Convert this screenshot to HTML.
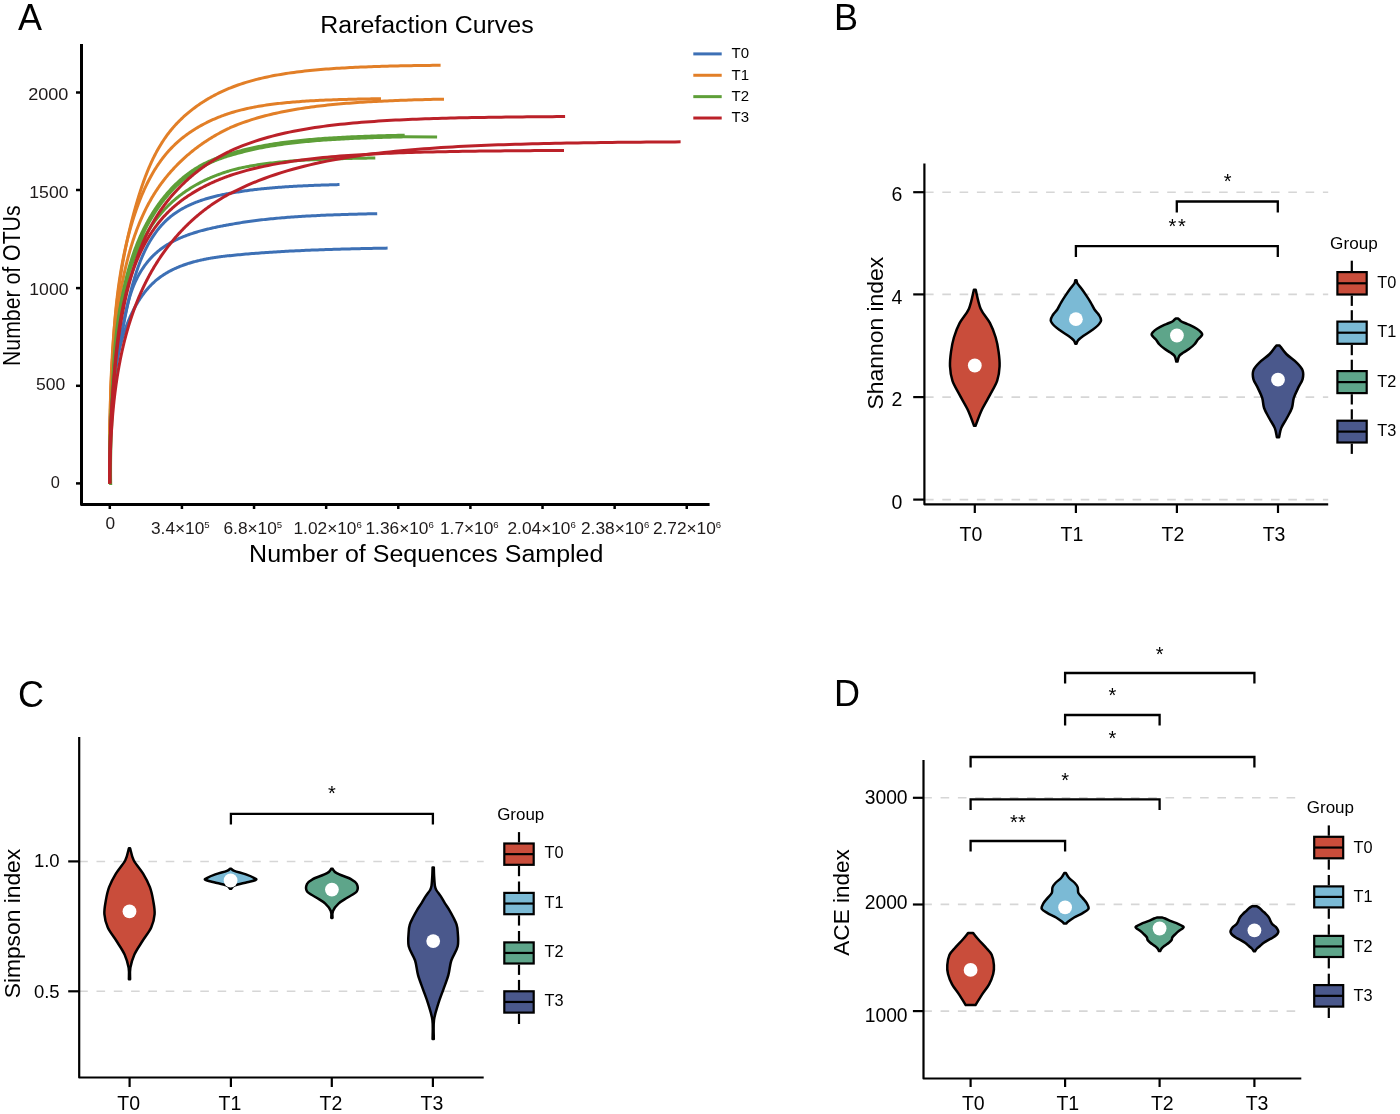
<!DOCTYPE html>
<html><head><meta charset="utf-8"><style>
html,body{margin:0;padding:0;background:#fff;}
svg{display:block;will-change:transform;}
text{font-family:"Liberation Sans",sans-serif;}
</style></head><body>
<svg width="1400" height="1114" viewBox="0 0 1400 1114">
<rect width="1400" height="1114" fill="#fff"/>
<text x="18.00" y="30.00" font-size="36" text-anchor="start" fill="#000" >A</text>
<text x="320.30" y="33.00" font-size="23.5" text-anchor="start" fill="#000" textLength="213.34" lengthAdjust="spacingAndGlyphs" >Rarefaction Curves</text>
<path d="M81.5,44 L81.5,504.5 L709.6,504.5" stroke="#000" stroke-width="3" fill="none" stroke-linejoin="round"/>
<line x1="76.00" y1="483.40" x2="81.50" y2="483.40" stroke="#000" stroke-width="2.5" />
<line x1="76.00" y1="385.80" x2="81.50" y2="385.80" stroke="#000" stroke-width="2.5" />
<line x1="76.00" y1="288.10" x2="81.50" y2="288.10" stroke="#000" stroke-width="2.5" />
<line x1="76.00" y1="190.00" x2="81.50" y2="190.00" stroke="#000" stroke-width="2.5" />
<line x1="76.00" y1="92.50" x2="81.50" y2="92.50" stroke="#000" stroke-width="2.5" />
<text x="28.20" y="100.00" font-size="17.3" text-anchor="start" fill="#1e1a1a" textLength="40.19" lengthAdjust="spacingAndGlyphs" >2000</text>
<text x="29.30" y="197.60" font-size="17.3" text-anchor="start" fill="#1e1a1a" textLength="39.19" lengthAdjust="spacingAndGlyphs" >1500</text>
<text x="29.30" y="295.00" font-size="17.3" text-anchor="start" fill="#1e1a1a" textLength="39.19" lengthAdjust="spacingAndGlyphs" >1000</text>
<text x="36.10" y="389.60" font-size="17.3" text-anchor="start" fill="#1e1a1a" textLength="29.27" lengthAdjust="spacingAndGlyphs" >500</text>
<text x="50.70" y="487.60" font-size="17.3" text-anchor="start" fill="#1e1a1a" textLength="9.12" lengthAdjust="spacingAndGlyphs" >0</text>
<line x1="109.80" y1="505.00" x2="109.80" y2="509.00" stroke="#000" stroke-width="2.5" />
<line x1="181.92" y1="505.00" x2="181.92" y2="509.00" stroke="#000" stroke-width="2.5" />
<line x1="254.04" y1="505.00" x2="254.04" y2="509.00" stroke="#000" stroke-width="2.5" />
<line x1="326.16" y1="505.00" x2="326.16" y2="509.00" stroke="#000" stroke-width="2.5" />
<line x1="398.28" y1="505.00" x2="398.28" y2="509.00" stroke="#000" stroke-width="2.5" />
<line x1="470.40" y1="505.00" x2="470.40" y2="509.00" stroke="#000" stroke-width="2.5" />
<line x1="542.52" y1="505.00" x2="542.52" y2="509.00" stroke="#000" stroke-width="2.5" />
<line x1="614.64" y1="505.00" x2="614.64" y2="509.00" stroke="#000" stroke-width="2.5" />
<line x1="686.76" y1="505.00" x2="686.76" y2="509.00" stroke="#000" stroke-width="2.5" />
<text x="110.40" y="529.30" font-size="17.3" text-anchor="middle" fill="#1e1a1a" >0</text>
<text x="151.00" y="534.00" font-size="17.3" text-anchor="start" fill="#1e1a1a" >3.4×10<tspan font-size="9.6" dy="-5.8">5</tspan></text>
<text x="223.50" y="534.00" font-size="17.3" text-anchor="start" fill="#1e1a1a" >6.8×10<tspan font-size="9.6" dy="-5.8">5</tspan></text>
<text x="293.50" y="534.00" font-size="17.3" text-anchor="start" fill="#1e1a1a" >1.02×10<tspan font-size="9.6" dy="-5.8">6</tspan></text>
<text x="365.50" y="534.00" font-size="17.3" text-anchor="start" fill="#1e1a1a" >1.36×10<tspan font-size="9.6" dy="-5.8">6</tspan></text>
<text x="440.00" y="534.00" font-size="17.3" text-anchor="start" fill="#1e1a1a" >1.7×10<tspan font-size="9.6" dy="-5.8">6</tspan></text>
<text x="507.50" y="534.00" font-size="17.3" text-anchor="start" fill="#1e1a1a" >2.04×10<tspan font-size="9.6" dy="-5.8">6</tspan></text>
<text x="581.00" y="534.00" font-size="17.3" text-anchor="start" fill="#1e1a1a" >2.38×10<tspan font-size="9.6" dy="-5.8">6</tspan></text>
<text x="652.90" y="534.00" font-size="17.3" text-anchor="start" fill="#1e1a1a" >2.72×10<tspan font-size="9.6" dy="-5.8">6</tspan></text>
<text x="249.10" y="562.10" font-size="23.5" text-anchor="start" fill="#000" textLength="354.32" lengthAdjust="spacingAndGlyphs" >Number of Sequences Sampled</text>
<text x="19.60" y="366.00" font-size="23" text-anchor="start" fill="#000" textLength="160.60" lengthAdjust="spacingAndGlyphs" transform="rotate(-90 19.60 366.00)" >Number of OTUs</text>
<polyline points="109.80,483.40 109.81,482.44 109.82,481.48 109.83,480.52 109.83,479.56 109.84,478.60 109.84,477.64 109.85,476.68 109.85,475.72 109.85,474.76 109.85,473.80 109.85,472.84 109.85,471.87 109.85,470.91 109.85,469.95 109.85,468.99 109.84,468.03 109.84,467.06 109.84,466.10 109.83,465.14 109.83,464.17 109.82,463.21 109.82,462.25 109.81,461.29 109.81,460.32 109.80,459.36 109.80,458.40 109.79,457.43 109.79,456.47 109.78,455.51 109.78,454.54 109.78,453.58 109.77,452.62 109.77,451.65 109.77,450.69 109.76,449.73 109.76,448.76 109.76,447.80 109.76,446.84 109.76,445.88 109.76,444.91 109.76,443.95 109.77,442.99 109.77,442.03 109.77,441.07 109.78,440.10 109.79,439.14 109.80,438.18 109.80,437.22 109.81,436.26 109.83,435.30 109.84,434.34 109.85,433.38 109.87,432.42 109.89,431.46 109.91,430.50 109.93,429.54 109.95,428.58 109.97,427.63 110.00,426.67 110.03,425.71 110.06,424.75 110.09,423.80 110.12,422.84 110.16,421.89 110.20,420.93 110.24,419.98 110.28,419.02 110.32,418.07 110.37,417.11 110.42,416.16 110.47,415.21 110.52,414.25 110.58,413.30 110.64,412.35 110.70,411.40 110.77,410.45 110.83,409.50 110.90,408.55 110.97,407.60 111.05,406.65 111.13,405.71 111.20,404.76 111.29,403.81 111.37,402.86 111.46,401.92 111.54,400.97 111.63,400.02 111.73,399.08 111.82,398.13 111.92,397.18 112.02,396.24 112.12,395.29 112.22,394.35 112.33,393.40 112.44,392.45 112.55,391.51 112.66,390.56 112.77,389.62 112.89,388.67 113.00,387.72 113.12,386.78 113.24,385.83 113.37,384.88 113.49,383.94 113.62,382.99 113.75,382.04 113.88,381.10 114.01,380.15 114.14,379.20 114.28,378.25 114.42,377.30 114.55,376.35 114.69,375.40 114.84,374.45 114.98,373.50 115.12,372.55 115.27,371.60 115.42,370.64 115.57,369.69 115.72,368.74 115.87,367.78 116.02,366.83 116.18,365.87 116.33,364.92 116.49,363.96 116.65,363.00 116.81,362.04 116.97,361.08 117.13,360.12 117.30,359.16 117.46,358.20 117.63,357.24 117.79,356.27 117.96,355.31 118.13,354.34 118.30,353.38 118.47,352.41 118.64,351.44 118.82,350.47 118.99,349.50 119.16,348.53 119.34,347.55 119.52,346.58 119.69,345.60 119.87,344.63 120.05,343.65 120.23,342.67 120.41,341.69 120.59,340.71 120.77,339.72 120.95,338.74 121.14,337.75 121.32,336.77 121.50,335.78 121.69,334.79 121.87,333.79 122.06,332.80 122.24,331.81 122.43,330.81 122.62,329.81 122.81,328.81 122.99,327.82 123.18,326.81 123.37,325.81 123.57,324.81 123.76,323.81 123.95,322.80 124.15,321.80 124.34,320.79 124.54,319.79 124.74,318.78 124.93,317.77 125.13,316.77 125.34,315.76 125.54,314.75 125.74,313.74 125.95,312.73 126.16,311.73 126.37,310.72 126.58,309.71 126.79,308.70 127.01,307.69 127.22,306.69 127.44,305.68 127.66,304.68 127.88,303.67 128.11,302.67 128.33,301.66 128.56,300.66 128.79,299.66 129.03,298.65 129.26,297.65 129.50,296.65 129.74,295.66 129.98,294.66 130.22,293.66 130.47,292.67 130.72,291.67 130.97,290.68 131.23,289.69 131.49,288.70 131.75,287.72 132.01,286.73 132.28,285.75 132.55,284.77 132.82,283.79 133.09,282.81 133.37,281.84 133.65,280.86 133.94,279.89 134.23,278.93 134.52,277.96 134.81,277.00 135.11,276.04 135.41,275.08 135.72,274.12 136.03,273.17 136.34,272.22 136.65,271.27 136.97,270.33 137.30,269.39 137.62,268.45 137.95,267.52 138.29,266.58 138.63,265.66 138.97,264.73 139.32,263.81 139.67,262.89 140.02,261.98 140.38,261.07 140.75,260.16 141.11,259.26 141.49,258.36 141.86,257.47 142.24,256.57 142.63,255.69 143.02,254.81 143.41,253.93 143.81,253.05 144.22,252.18 144.63,251.32 145.04,250.46 145.46,249.60 145.88,248.75 146.31,247.90 146.74,247.06 147.18,246.23 147.62,245.39 148.07,244.57 148.53,243.74 148.99,242.93 149.45,242.12 149.92,241.31 150.40,240.51 150.88,239.71 151.36,238.93 151.86,238.14 152.35,237.36 152.86,236.59 153.37,235.82 153.88,235.06 154.40,234.31 154.93,233.56 155.46,232.82 156.00,232.08 156.54,231.35 157.09,230.62 157.65,229.91 158.21,229.19 158.78,228.49 159.36,227.79 159.94,227.10 160.53,226.41 161.12,225.74 161.72,225.06 162.33,224.40 162.94,223.74 163.56,223.09 164.19,222.45 164.82,221.81 165.46,221.19 166.11,220.56 166.77,219.95 167.43,219.34 168.10,218.75 168.77,218.15 169.45,217.57 170.14,217.00 170.84,216.43 171.55,215.87 172.26,215.32 172.98,214.77 173.70,214.24 174.43,213.71 175.17,213.19 175.92,212.67 176.67,212.17 177.43,211.67 178.19,211.18 178.97,210.70 179.74,210.22 180.53,209.75 181.32,209.29 182.11,208.83 182.91,208.39 183.72,207.95 184.53,207.51 185.35,207.09 186.17,206.67 187.00,206.25 187.83,205.85 188.67,205.45 189.51,205.06 190.35,204.67 191.21,204.29 192.06,203.92 192.92,203.55 193.79,203.19 194.66,202.83 195.53,202.48 196.41,202.14 197.29,201.81 198.17,201.47 199.06,201.15 199.95,200.83 200.85,200.52 201.74,200.21 202.65,199.91 203.55,199.61 204.46,199.32 205.37,199.04 206.28,198.76 207.20,198.49 208.12,198.22 209.04,197.95 209.97,197.69 210.89,197.44 211.82,197.19 212.75,196.95 213.69,196.71 214.63,196.47 215.56,196.24 216.50,196.01 217.45,195.79 218.39,195.57 219.34,195.36 220.29,195.15 221.24,194.95 222.19,194.74 223.14,194.55 224.09,194.35 225.05,194.16 226.00,193.98 226.96,193.79 227.92,193.62 228.88,193.44 229.84,193.27 230.00,193.36 231.39,193.10 232.77,192.85 234.16,192.60 235.54,192.36 236.93,192.13 238.32,191.90 239.70,191.68 241.09,191.46 242.47,191.25 243.86,191.05 245.25,190.85 246.63,190.65 248.02,190.47 249.41,190.28 250.79,190.10 252.18,189.93 253.56,189.76 254.95,189.59 256.34,189.43 257.72,189.27 259.11,189.12 260.49,188.97 261.88,188.82 263.27,188.68 264.65,188.54 266.04,188.40 267.42,188.27 268.81,188.15 270.20,188.02 271.58,187.90 272.97,187.78 274.35,187.67 275.74,187.55 277.13,187.44 278.51,187.34 279.90,187.23 281.28,187.13 282.67,187.03 284.06,186.94 285.44,186.84 286.83,186.75 288.22,186.66 289.60,186.58 290.99,186.49 292.37,186.41 293.76,186.33 295.15,186.25 296.53,186.18 297.92,186.10 299.30,186.03 300.69,185.96 302.08,185.89 303.46,185.83 304.85,185.76 306.23,185.70 307.62,185.64 309.01,185.58 310.39,185.52 311.78,185.46 313.16,185.41 314.55,185.35 315.94,185.30 317.32,185.25 318.71,185.20 320.09,185.15 321.48,185.10 322.87,185.05 324.25,185.01 325.64,184.97 327.03,184.92 328.41,184.88 329.80,184.84 331.18,184.80 332.57,184.76 333.96,184.73 335.34,184.69 336.73,184.65 338.11,184.62 339.50,184.58" stroke="#3d70b5" stroke-width="3" fill="none" stroke-linejoin="round"/>
<polyline points="109.80,483.40 109.80,482.49 109.80,481.59 109.80,480.68 109.80,479.78 109.80,478.87 109.80,477.96 109.80,477.06 109.80,476.15 109.80,475.24 109.80,474.34 109.79,473.43 109.79,472.53 109.79,471.62 109.79,470.71 109.78,469.81 109.78,468.90 109.78,467.99 109.78,467.09 109.78,466.18 109.77,465.27 109.77,464.37 109.77,463.46 109.77,462.55 109.77,461.65 109.76,460.74 109.76,459.83 109.76,458.93 109.76,458.02 109.76,457.11 109.76,456.21 109.76,455.30 109.76,454.39 109.76,453.49 109.76,452.58 109.77,451.67 109.77,450.77 109.77,449.86 109.77,448.96 109.78,448.05 109.78,447.14 109.79,446.24 109.79,445.33 109.80,444.43 109.81,443.52 109.81,442.61 109.82,441.71 109.83,440.80 109.84,439.90 109.85,438.99 109.86,438.09 109.88,437.18 109.89,436.28 109.90,435.37 109.92,434.47 109.93,433.56 109.95,432.66 109.97,431.75 109.99,430.85 110.01,429.94 110.03,429.04 110.05,428.13 110.07,427.23 110.10,426.33 110.12,425.42 110.15,424.52 110.18,423.62 110.21,422.71 110.24,421.81 110.27,420.91 110.30,420.00 110.34,419.10 110.37,418.20 110.41,417.30 110.45,416.39 110.49,415.49 110.53,414.59 110.57,413.69 110.62,412.79 110.66,411.88 110.71,410.98 110.76,410.08 110.81,409.18 110.86,408.28 110.91,407.38 110.97,406.48 111.03,405.58 111.09,404.68 111.15,403.78 111.21,402.88 111.27,401.98 111.34,401.08 111.41,400.18 111.48,399.28 111.55,398.39 111.63,397.49 111.70,396.59 111.78,395.69 111.86,394.79 111.94,393.90 112.02,393.00 112.11,392.10 112.20,391.21 112.29,390.31 112.38,389.41 112.48,388.52 112.57,387.62 112.67,386.73 112.77,385.83 112.88,384.94 112.98,384.04 113.09,383.15 113.20,382.26 113.32,381.36 113.43,380.47 113.55,379.58 113.67,378.68 113.79,377.79 113.92,376.90 114.04,376.01 114.17,375.11 114.30,374.22 114.44,373.33 114.57,372.44 114.71,371.55 114.85,370.66 114.99,369.77 115.13,368.87 115.28,367.98 115.43,367.09 115.57,366.20 115.72,365.31 115.88,364.42 116.03,363.53 116.18,362.63 116.34,361.74 116.49,360.85 116.65,359.96 116.81,359.07 116.97,358.17 117.13,357.28 117.30,356.39 117.46,355.49 117.62,354.60 117.79,353.70 117.95,352.81 118.12,351.91 118.29,351.02 118.46,350.12 118.62,349.23 118.79,348.33 118.96,347.43 119.13,346.53 119.30,345.63 119.47,344.73 119.64,343.83 119.82,342.93 119.99,342.03 120.16,341.13 120.33,340.23 120.50,339.32 120.67,338.42 120.84,337.51 121.01,336.61 121.18,335.70 121.35,334.79 121.52,333.89 121.69,332.98 121.86,332.07 122.03,331.16 122.20,330.24 122.37,329.33 122.54,328.42 122.71,327.51 122.88,326.59 123.06,325.68 123.23,324.77 123.40,323.86 123.58,322.94 123.75,322.03 123.93,321.12 124.11,320.21 124.29,319.30 124.47,318.38 124.66,317.47 124.84,316.56 125.03,315.65 125.22,314.75 125.41,313.84 125.61,312.93 125.81,312.03 126.01,311.12 126.21,310.22 126.42,309.32 126.63,308.42 126.84,307.52 127.06,306.63 127.28,305.73 127.50,304.84 127.73,303.95 127.96,303.06 128.19,302.17 128.43,301.28 128.68,300.40 128.92,299.52 129.18,298.64 129.43,297.77 129.69,296.89 129.96,296.02 130.23,295.15 130.51,294.29 130.79,293.42 131.08,292.56 131.37,291.71 131.67,290.85 131.97,290.00 132.28,289.16 132.60,288.31 132.92,287.47 133.25,286.64 133.58,285.80 133.92,284.97 134.27,284.15 134.63,283.33 134.99,282.51 135.36,281.69 135.73,280.88 136.11,280.08 136.50,279.28 136.90,278.48 137.30,277.69 137.70,276.90 138.12,276.12 138.54,275.34 138.97,274.56 139.41,273.80 139.85,273.03 140.30,272.27 140.75,271.52 141.21,270.77 141.68,270.03 142.16,269.29 142.64,268.56 143.13,267.83 143.62,267.11 144.13,266.39 144.64,265.68 145.15,264.98 145.67,264.28 146.20,263.59 146.74,262.90 147.28,262.22 147.83,261.55 148.39,260.88 148.95,260.22 149.52,259.57 150.10,258.92 150.68,258.28 151.27,257.65 151.87,257.02 152.47,256.40 153.08,255.79 153.70,255.18 154.32,254.58 154.95,253.99 155.59,253.41 156.23,252.83 156.88,252.26 157.54,251.70 158.20,251.15 158.87,250.60 159.55,250.06 160.23,249.53 160.92,249.01 161.62,248.49 162.32,247.98 163.03,247.48 163.74,246.99 164.46,246.50 165.19,246.02 165.92,245.54 166.66,245.08 167.40,244.62 168.15,244.16 168.90,243.72 169.66,243.28 170.42,242.84 171.19,242.41 171.96,241.99 172.74,241.58 173.53,241.17 174.32,240.76 175.11,240.37 175.91,239.98 176.71,239.59 177.51,239.21 178.33,238.84 179.14,238.47 179.96,238.11 180.78,237.75 181.61,237.40 182.44,237.06 183.27,236.72 184.11,236.38 184.95,236.05 185.80,235.73 186.65,235.41 187.50,235.09 188.35,234.78 189.21,234.48 190.07,234.18 190.94,233.88 191.80,233.59 192.67,233.30 193.55,233.02 194.42,232.74 195.30,232.47 196.18,232.20 197.06,231.94 197.95,231.67 198.83,231.42 199.72,231.17 200.61,230.92 201.50,230.67 202.40,230.43 203.30,230.19 204.19,229.96 205.09,229.73 205.99,229.50 206.89,229.28 207.80,229.06 208.70,228.84 209.61,228.63 210.51,228.42 211.42,228.21 212.33,228.01 213.24,227.81 214.15,227.61 215.06,227.41 215.97,227.22 216.88,227.03 217.79,226.84 218.70,226.65 219.61,226.47 220.52,226.29 221.43,226.11 222.34,225.94 223.26,225.76 224.17,225.59 225.08,225.42 225.99,225.25 226.89,225.09 227.80,224.92 228.71,224.76 229.62,224.60 230.00,224.57 231.86,224.22 233.73,223.89 235.59,223.56 237.45,223.24 239.32,222.93 241.18,222.63 243.04,222.33 244.91,222.05 246.77,221.77 248.63,221.51 250.50,221.25 252.36,220.99 254.22,220.75 256.09,220.51 257.95,220.28 259.81,220.05 261.68,219.84 263.54,219.62 265.40,219.42 267.27,219.22 269.13,219.02 270.99,218.83 272.86,218.65 274.72,218.47 276.58,218.30 278.45,218.13 280.31,217.97 282.17,217.81 284.04,217.66 285.90,217.51 287.76,217.36 289.63,217.22 291.49,217.08 293.35,216.95 295.22,216.82 297.08,216.70 298.94,216.58 300.81,216.46 302.67,216.34 304.53,216.23 306.39,216.12 308.26,216.02 310.12,215.92 311.98,215.82 313.85,215.72 315.71,215.63 317.57,215.54 319.44,215.45 321.30,215.36 323.16,215.28 325.03,215.20 326.89,215.12 328.75,215.04 330.62,214.97 332.48,214.90 334.34,214.83 336.21,214.76 338.07,214.69 339.93,214.63 341.80,214.57 343.66,214.51 345.52,214.45 347.39,214.39 349.25,214.34 351.11,214.28 352.98,214.23 354.84,214.18 356.70,214.13 358.57,214.08 360.43,214.04 362.29,213.99 364.16,213.95 366.02,213.90 367.88,213.86 369.75,213.82 371.61,213.78 373.47,213.75 375.34,213.71 377.20,213.67" stroke="#3d70b5" stroke-width="3" fill="none" stroke-linejoin="round"/>
<polyline points="109.80,483.40 109.79,482.56 109.79,481.72 109.78,480.88 109.77,480.04 109.77,479.20 109.77,478.37 109.76,477.53 109.76,476.69 109.76,475.85 109.76,475.02 109.76,474.18 109.76,473.34 109.76,472.51 109.76,471.67 109.76,470.83 109.77,470.00 109.77,469.16 109.78,468.33 109.78,467.49 109.79,466.66 109.79,465.82 109.80,464.99 109.81,464.15 109.82,463.32 109.83,462.49 109.84,461.65 109.85,460.82 109.86,459.98 109.87,459.15 109.89,458.32 109.90,457.48 109.92,456.65 109.93,455.82 109.95,454.98 109.96,454.15 109.98,453.32 110.00,452.49 110.02,451.65 110.04,450.82 110.06,449.99 110.08,449.16 110.10,448.32 110.12,447.49 110.14,446.66 110.16,445.83 110.19,444.99 110.21,444.16 110.24,443.33 110.26,442.50 110.29,441.66 110.32,440.83 110.34,440.00 110.37,439.17 110.40,438.33 110.43,437.50 110.46,436.67 110.49,435.84 110.52,435.00 110.55,434.17 110.59,433.34 110.62,432.51 110.65,431.67 110.69,430.84 110.72,430.01 110.76,429.17 110.79,428.34 110.83,427.50 110.87,426.67 110.91,425.84 110.95,425.00 110.98,424.17 111.02,423.33 111.06,422.50 111.11,421.66 111.15,420.83 111.19,419.99 111.23,419.16 111.28,418.32 111.32,417.48 111.36,416.65 111.41,415.81 111.45,414.97 111.50,414.14 111.55,413.30 111.60,412.46 111.64,411.62 111.69,410.79 111.74,409.95 111.79,409.11 111.84,408.27 111.89,407.43 111.95,406.59 112.00,405.75 112.05,404.91 112.11,404.07 112.16,403.23 112.22,402.39 112.28,401.55 112.34,400.71 112.40,399.87 112.46,399.03 112.52,398.19 112.58,397.35 112.65,396.51 112.72,395.67 112.78,394.83 112.85,393.99 112.92,393.15 112.99,392.31 113.07,391.47 113.14,390.62 113.22,389.78 113.30,388.94 113.38,388.10 113.46,387.26 113.54,386.42 113.62,385.58 113.71,384.74 113.80,383.90 113.89,383.06 113.98,382.22 114.07,381.38 114.17,380.54 114.26,379.70 114.36,378.86 114.46,378.02 114.57,377.18 114.67,376.34 114.78,375.50 114.89,374.66 115.00,373.83 115.11,372.99 115.23,372.15 115.35,371.31 115.47,370.47 115.59,369.64 115.72,368.80 115.85,367.96 115.98,367.13 116.11,366.29 116.25,365.45 116.39,364.62 116.53,363.78 116.67,362.95 116.82,362.11 116.97,361.28 117.12,360.45 117.27,359.61 117.43,358.78 117.59,357.95 117.75,357.12 117.92,356.29 118.09,355.45 118.26,354.62 118.43,353.79 118.61,352.96 118.79,352.13 118.98,351.31 119.17,350.48 119.36,349.65 119.55,348.82 119.75,348.00 119.95,347.17 120.15,346.35 120.36,345.52 120.57,344.70 120.79,343.87 121.00,343.05 121.23,342.23 121.45,341.41 121.68,340.58 121.91,339.76 122.15,338.94 122.39,338.12 122.63,337.31 122.88,336.49 123.13,335.67 123.38,334.86 123.64,334.04 123.90,333.22 124.17,332.41 124.44,331.60 124.72,330.79 124.99,329.97 125.28,329.16 125.56,328.36 125.85,327.55 126.15,326.74 126.45,325.94 126.75,325.14 127.06,324.33 127.37,323.54 127.68,322.74 128.00,321.94 128.33,321.15 128.65,320.36 128.99,319.57 129.32,318.78 129.66,318.00 130.01,317.21 130.36,316.43 130.71,315.66 131.07,314.88 131.43,314.11 131.79,313.34 132.16,312.58 132.54,311.81 132.92,311.05 133.30,310.30 133.69,309.55 134.08,308.80 134.48,308.05 134.88,307.31 135.29,306.57 135.70,305.83 136.11,305.10 136.53,304.37 136.96,303.65 137.38,302.93 137.82,302.22 138.25,301.50 138.70,300.80 139.14,300.10 139.60,299.40 140.05,298.70 140.51,298.02 140.98,297.33 141.45,296.65 141.92,295.98 142.40,295.31 142.89,294.65 143.38,293.99 143.87,293.33 144.37,292.69 144.87,292.04 145.38,291.41 145.90,290.77 146.41,290.15 146.94,289.53 147.47,288.91 148.00,288.31 148.54,287.70 149.08,287.11 149.63,286.52 150.18,285.93 150.74,285.36 151.30,284.79 151.87,284.22 152.44,283.66 153.02,283.11 153.61,282.57 154.19,282.03 154.79,281.50 155.39,280.98 155.99,280.46 156.60,279.95 157.21,279.45 157.83,278.96 158.45,278.47 159.08,277.99 159.72,277.51 160.36,277.04 161.00,276.58 161.65,276.13 162.30,275.68 162.95,275.24 163.62,274.80 164.28,274.38 164.95,273.95 165.63,273.54 166.30,273.13 166.99,272.72 167.67,272.32 168.37,271.93 169.06,271.55 169.76,271.17 170.46,270.79 171.17,270.43 171.88,270.06 172.60,269.71 173.32,269.36 174.04,269.01 174.76,268.67 175.49,268.34 176.23,268.01 176.96,267.68 177.70,267.37 178.45,267.05 179.20,266.75 179.95,266.44 180.70,266.15 181.46,265.85 182.22,265.57 182.98,265.28 183.74,265.01 184.51,264.74 185.29,264.47 186.06,264.20 186.84,263.95 187.62,263.69 188.40,263.44 189.19,263.20 189.97,262.96 190.77,262.72 191.56,262.49 192.36,262.26 193.15,262.04 193.95,261.82 194.76,261.61 195.56,261.40 196.37,261.19 197.18,260.99 197.99,260.79 198.80,260.59 199.62,260.40 200.44,260.22 201.26,260.03 202.08,259.85 202.90,259.68 203.72,259.50 204.55,259.33 205.38,259.17 206.21,259.00 207.04,258.85 207.87,258.69 208.71,258.54 209.54,258.39 210.38,258.24 211.22,258.10 212.05,257.95 212.89,257.82 213.74,257.68 214.58,257.55 215.42,257.42 216.27,257.29 217.11,257.17 217.96,257.05 218.80,256.93 219.65,256.81 220.50,256.70 221.35,256.59 222.20,256.48 223.05,256.37 223.90,256.26 224.75,256.16 225.60,256.06 226.45,255.96 227.30,255.86 228.15,255.77 229.00,255.68 229.86,255.59 230.00,255.65 231.99,255.44 233.99,255.24 235.98,255.04 237.98,254.84 239.97,254.65 241.97,254.47 243.96,254.29 245.96,254.11 247.95,253.94 249.95,253.77 251.94,253.61 253.94,253.45 255.93,253.29 257.93,253.14 259.92,252.99 261.92,252.84 263.91,252.70 265.91,252.56 267.90,252.42 269.90,252.29 271.89,252.16 273.89,252.03 275.88,251.91 277.88,251.79 279.87,251.67 281.87,251.55 283.86,251.44 285.86,251.33 287.85,251.22 289.85,251.12 291.84,251.02 293.84,250.92 295.83,250.82 297.83,250.72 299.82,250.63 301.82,250.54 303.81,250.45 305.81,250.36 307.80,250.28 309.80,250.19 311.79,250.11 313.79,250.03 315.78,249.96 317.78,249.88 319.77,249.81 321.77,249.74 323.76,249.67 325.76,249.60 327.75,249.53 329.75,249.47 331.74,249.40 333.74,249.34 335.73,249.28 337.73,249.22 339.72,249.16 341.72,249.10 343.71,249.05 345.71,248.99 347.70,248.94 349.70,248.89 351.69,248.84 353.69,248.79 355.68,248.74 357.68,248.69 359.67,248.65 361.67,248.60 363.66,248.56 365.66,248.52 367.65,248.48 369.65,248.43 371.64,248.39 373.64,248.36 375.63,248.32 377.63,248.28 379.62,248.24 381.62,248.21 383.61,248.17 385.61,248.14 387.60,248.11" stroke="#3d70b5" stroke-width="3" fill="none" stroke-linejoin="round"/>
<polyline points="109.80,483.40 109.80,482.20 109.79,481.00 109.79,479.80 109.79,478.60 109.79,477.40 109.79,476.20 109.79,475.00 109.78,473.80 109.78,472.60 109.78,471.40 109.78,470.20 109.78,469.00 109.78,467.80 109.78,466.60 109.78,465.40 109.78,464.20 109.78,463.00 109.78,461.79 109.78,460.59 109.78,459.39 109.78,458.19 109.78,456.99 109.79,455.79 109.79,454.58 109.79,453.38 109.79,452.18 109.80,450.98 109.80,449.77 109.81,448.57 109.81,447.37 109.82,446.16 109.82,444.96 109.83,443.76 109.83,442.55 109.84,441.35 109.85,440.15 109.86,438.94 109.86,437.74 109.87,436.54 109.88,435.33 109.89,434.13 109.90,432.93 109.91,431.72 109.92,430.52 109.94,429.31 109.95,428.11 109.96,426.91 109.98,425.70 109.99,424.50 110.01,423.29 110.02,422.09 110.04,420.88 110.06,419.68 110.07,418.48 110.09,417.27 110.11,416.07 110.13,414.86 110.15,413.66 110.18,412.45 110.20,411.25 110.22,410.05 110.24,408.84 110.27,407.64 110.29,406.43 110.32,405.23 110.35,404.02 110.38,402.82 110.40,401.61 110.43,400.41 110.47,399.21 110.50,398.00 110.53,396.80 110.56,395.59 110.60,394.39 110.63,393.18 110.67,391.98 110.71,390.78 110.74,389.57 110.78,388.37 110.82,387.16 110.86,385.96 110.91,384.76 110.95,383.55 110.99,382.35 111.04,381.14 111.08,379.94 111.13,378.74 111.18,377.53 111.23,376.33 111.28,375.13 111.33,373.92 111.39,372.72 111.44,371.52 111.50,370.31 111.55,369.11 111.61,367.91 111.67,366.71 111.73,365.50 111.79,364.30 111.85,363.10 111.92,361.90 111.98,360.69 112.05,359.49 112.12,358.29 112.18,357.09 112.26,355.89 112.33,354.68 112.40,353.48 112.47,352.28 112.55,351.08 112.63,349.88 112.71,348.68 112.78,347.48 112.87,346.28 112.95,345.08 113.03,343.88 113.12,342.68 113.21,341.48 113.29,340.28 113.38,339.08 113.47,337.88 113.57,336.68 113.66,335.48 113.76,334.28 113.86,333.08 113.95,331.88 114.06,330.68 114.16,329.49 114.26,328.29 114.37,327.09 114.47,325.89 114.58,324.70 114.69,323.50 114.80,322.30 114.92,321.10 115.03,319.91 115.15,318.71 115.27,317.52 115.39,316.32 115.51,315.12 115.63,313.93 115.76,312.73 115.89,311.54 116.01,310.34 116.15,309.15 116.28,307.96 116.41,306.76 116.55,305.57 116.69,304.37 116.83,303.18 116.97,301.99 117.11,300.80 117.26,299.60 117.40,298.41 117.55,297.22 117.70,296.03 117.86,294.84 118.01,293.64 118.17,292.45 118.33,291.26 118.49,290.07 118.65,288.88 118.81,287.69 118.98,286.50 119.15,285.32 119.32,284.13 119.49,282.94 119.67,281.75 119.84,280.56 120.02,279.38 120.20,278.19 120.39,277.00 120.57,275.81 120.76,274.63 120.95,273.44 121.14,272.26 121.34,271.07 121.53,269.89 121.73,268.70 121.93,267.52 122.13,266.33 122.34,265.15 122.54,263.97 122.75,262.79 122.96,261.60 123.18,260.42 123.39,259.24 123.61,258.06 123.83,256.88 124.06,255.70 124.28,254.52 124.51,253.34 124.74,252.16 124.97,250.98 125.20,249.80 125.44,248.62 125.68,247.44 125.92,246.27 126.17,245.09 126.41,243.91 126.66,242.74 126.91,241.56 127.17,240.39 127.42,239.21 127.68,238.04 127.95,236.86 128.21,235.69 128.48,234.52 128.74,233.34 129.02,232.17 129.29,231.00 129.57,229.83 129.85,228.66 130.13,227.48 130.41,226.31 130.70,225.14 130.99,223.98 131.28,222.81 131.58,221.64 131.87,220.47 132.18,219.30 132.48,218.14 132.78,216.97 133.09,215.80 133.40,214.64 133.72,213.47 134.03,212.31 134.35,211.14 134.68,209.98 135.00,208.82 135.33,207.65 135.66,206.49 135.99,205.33 136.33,204.17 136.67,203.01 137.01,201.85 137.36,200.69 137.70,199.53 138.05,198.37 138.41,197.21 138.76,196.06 139.12,194.90 139.49,193.75 139.85,192.59 140.22,191.44 140.60,190.29 140.98,189.14 141.36,187.99 141.74,186.84 142.13,185.69 142.53,184.55 142.92,183.41 143.32,182.27 143.73,181.13 144.14,180.00 144.56,178.86 144.98,177.73 145.40,176.60 145.83,175.48 146.27,174.35 146.71,173.23 147.15,172.12 147.60,171.00 148.06,169.89 148.52,168.78 148.98,167.68 149.45,166.58 149.93,165.48 150.42,164.38 150.91,163.29 151.40,162.21 151.90,161.12 152.41,160.05 152.92,158.97 153.44,157.90 153.97,156.83 154.51,155.77 155.05,154.72 155.59,153.66 156.15,152.62 156.71,151.57 157.28,150.54 157.85,149.50 158.43,148.48 159.02,147.45 159.62,146.44 160.23,145.42 160.84,144.42 161.46,143.42 162.09,142.42 162.72,141.44 163.37,140.45 164.02,139.48 164.68,138.51 165.35,137.54 166.03,136.58 166.71,135.63 167.41,134.69 168.11,133.75 168.83,132.82 169.55,131.90 170.28,130.98 171.02,130.07 171.76,129.16 172.52,128.27 173.29,127.38 174.06,126.50 174.84,125.62 175.63,124.75 176.43,123.89 177.24,123.04 178.06,122.19 178.88,121.35 179.71,120.52 180.55,119.70 181.40,118.88 182.26,118.07 183.12,117.26 183.99,116.47 184.87,115.68 185.75,114.89 186.65,114.12 187.55,113.35 188.45,112.59 189.37,111.84 190.29,111.09 191.22,110.35 192.15,109.62 193.09,108.90 194.04,108.18 194.99,107.47 195.95,106.77 196.92,106.07 197.89,105.38 198.87,104.70 199.86,104.03 200.85,103.36 201.85,102.71 202.85,102.06 203.86,101.41 204.87,100.78 205.89,100.15 206.92,99.52 207.95,98.91 208.99,98.30 210.03,97.70 211.07,97.11 212.13,96.53 213.18,95.95 214.24,95.38 215.31,94.82 216.38,94.27 217.45,93.72 218.53,93.18 219.62,92.65 220.70,92.12 221.80,91.61 222.89,91.10 223.99,90.59 225.10,90.10 226.20,89.61 227.32,89.13 228.43,88.66 229.55,88.20 230.00,88.03 232.67,86.98 235.33,85.98 238.00,85.02 240.66,84.10 243.33,83.23 245.99,82.39 248.66,81.59 251.33,80.83 253.99,80.10 256.66,79.41 259.32,78.74 261.99,78.11 264.66,77.50 267.32,76.92 269.99,76.37 272.65,75.84 275.32,75.34 277.98,74.86 280.65,74.40 283.32,73.96 285.98,73.54 288.65,73.14 291.31,72.76 293.98,72.39 296.65,72.05 299.31,71.71 301.98,71.39 304.64,71.09 307.31,70.80 309.97,70.52 312.64,70.26 315.31,70.01 317.97,69.77 320.64,69.53 323.30,69.31 325.97,69.10 328.64,68.90 331.30,68.71 333.97,68.53 336.63,68.35 339.30,68.19 341.96,68.03 344.63,67.88 347.30,67.73 349.96,67.59 352.63,67.46 355.29,67.33 357.96,67.21 360.63,67.10 363.29,66.98 365.96,66.88 368.62,66.78 371.29,66.68 373.95,66.59 376.62,66.50 379.29,66.42 381.95,66.34 384.62,66.26 387.28,66.19 389.95,66.12 392.62,66.05 395.28,65.99 397.95,65.93 400.61,65.87 403.28,65.82 405.94,65.76 408.61,65.71 411.28,65.66 413.94,65.62 416.61,65.57 419.27,65.53 421.94,65.49 424.61,65.45 427.27,65.42 429.94,65.38 432.60,65.35 435.27,65.32 437.93,65.29 440.60,65.26" stroke="#e27f27" stroke-width="3" fill="none" stroke-linejoin="round"/>
<polyline points="109.80,483.40 109.78,482.25 109.76,481.10 109.74,479.94 109.73,478.79 109.71,477.64 109.69,476.49 109.68,475.34 109.67,474.19 109.65,473.04 109.64,471.89 109.63,470.74 109.62,469.59 109.62,468.44 109.61,467.29 109.60,466.15 109.60,465.00 109.60,463.85 109.59,462.70 109.59,461.55 109.59,460.41 109.59,459.26 109.59,458.11 109.60,456.97 109.60,455.82 109.61,454.67 109.61,453.53 109.62,452.38 109.62,451.24 109.63,450.09 109.64,448.94 109.65,447.80 109.66,446.65 109.67,445.51 109.69,444.36 109.70,443.22 109.72,442.07 109.73,440.93 109.75,439.79 109.76,438.64 109.78,437.50 109.80,436.35 109.82,435.21 109.84,434.06 109.86,432.92 109.88,431.78 109.90,430.63 109.93,429.49 109.95,428.35 109.98,427.20 110.00,426.06 110.03,424.92 110.05,423.77 110.08,422.63 110.11,421.48 110.14,420.34 110.17,419.20 110.20,418.05 110.23,416.91 110.26,415.77 110.29,414.62 110.32,413.48 110.36,412.34 110.39,411.19 110.42,410.05 110.46,408.91 110.49,407.76 110.53,406.62 110.57,405.47 110.60,404.33 110.64,403.19 110.68,402.04 110.72,400.90 110.75,399.75 110.79,398.61 110.83,397.46 110.87,396.32 110.91,395.17 110.96,394.03 111.00,392.88 111.04,391.74 111.08,390.59 111.12,389.45 111.17,388.30 111.21,387.16 111.26,386.01 111.30,384.86 111.34,383.72 111.39,382.57 111.43,381.42 111.48,380.28 111.53,379.13 111.57,377.98 111.62,376.84 111.67,375.69 111.71,374.54 111.76,373.39 111.81,372.24 111.86,371.09 111.91,369.95 111.96,368.80 112.01,367.65 112.06,366.50 112.11,365.35 112.16,364.20 112.21,363.05 112.27,361.90 112.32,360.75 112.38,359.60 112.43,358.45 112.49,357.30 112.55,356.15 112.60,355.00 112.66,353.85 112.72,352.70 112.78,351.55 112.84,350.40 112.91,349.25 112.97,348.10 113.04,346.95 113.10,345.80 113.17,344.65 113.24,343.50 113.30,342.35 113.37,341.20 113.45,340.05 113.52,338.91 113.59,337.76 113.67,336.61 113.74,335.46 113.82,334.31 113.90,333.16 113.98,332.01 114.06,330.86 114.14,329.71 114.23,328.56 114.31,327.41 114.40,326.27 114.49,325.12 114.58,323.97 114.67,322.82 114.77,321.67 114.86,320.53 114.96,319.38 115.06,318.23 115.16,317.09 115.26,315.94 115.36,314.79 115.47,313.65 115.57,312.50 115.68,311.35 115.79,310.21 115.90,309.06 116.02,307.92 116.13,306.77 116.25,305.63 116.37,304.49 116.49,303.34 116.62,302.20 116.75,301.06 116.87,299.91 117.00,298.77 117.14,297.63 117.27,296.49 117.41,295.35 117.55,294.21 117.69,293.07 117.83,291.93 117.98,290.79 118.12,289.65 118.27,288.51 118.43,287.37 118.58,286.23 118.74,285.09 118.90,283.96 119.06,282.82 119.23,281.68 119.39,280.55 119.56,279.41 119.73,278.28 119.91,277.15 120.09,276.01 120.27,274.88 120.45,273.75 120.63,272.61 120.82,271.48 121.01,270.35 121.21,269.22 121.40,268.09 121.60,266.96 121.80,265.83 122.01,264.70 122.22,263.58 122.43,262.45 122.64,261.32 122.86,260.20 123.08,259.07 123.30,257.95 123.52,256.82 123.75,255.70 123.98,254.58 124.22,253.46 124.46,252.34 124.70,251.22 124.94,250.10 125.19,248.98 125.44,247.86 125.69,246.74 125.95,245.62 126.21,244.51 126.47,243.39 126.74,242.28 127.01,241.16 127.28,240.05 127.56,238.94 127.84,237.83 128.13,236.71 128.41,235.60 128.71,234.49 129.00,233.39 129.30,232.28 129.60,231.17 129.91,230.07 130.22,228.96 130.53,227.86 130.85,226.75 131.17,225.65 131.49,224.55 131.82,223.45 132.15,222.35 132.49,221.25 132.83,220.15 133.17,219.05 133.52,217.96 133.87,216.86 134.22,215.77 134.58,214.67 134.95,213.58 135.31,212.49 135.69,211.40 136.06,210.31 136.44,209.22 136.83,208.14 137.22,207.05 137.61,205.97 138.01,204.89 138.41,203.81 138.82,202.73 139.23,201.66 139.65,200.58 140.07,199.51 140.50,198.44 140.93,197.38 141.36,196.31 141.81,195.25 142.25,194.19 142.71,193.14 143.16,192.08 143.63,191.03 144.09,189.99 144.57,188.94 145.05,187.90 145.53,186.87 146.02,185.83 146.52,184.80 147.02,183.78 147.53,182.75 148.05,181.73 148.57,180.72 149.09,179.71 149.62,178.70 150.16,177.70 150.71,176.70 151.26,175.71 151.82,174.72 152.38,173.73 152.95,172.75 153.53,171.78 154.11,170.81 154.70,169.84 155.30,168.88 155.90,167.92 156.52,166.97 157.13,166.03 157.76,165.09 158.39,164.16 159.03,163.23 159.68,162.31 160.33,161.39 160.99,160.48 161.66,159.57 162.34,158.67 163.02,157.78 163.71,156.89 164.41,156.01 165.12,155.14 165.83,154.27 166.55,153.41 167.28,152.56 168.02,151.71 168.77,150.87 169.52,150.04 170.28,149.21 171.05,148.40 171.83,147.59 172.62,146.78 173.42,145.99 174.22,145.20 175.03,144.42 175.86,143.64 176.68,142.88 177.52,142.12 178.37,141.37 179.22,140.63 180.09,139.89 180.96,139.16 181.83,138.45 182.72,137.73 183.61,137.03 184.51,136.33 185.42,135.65 186.33,134.96 187.25,134.29 188.18,133.63 189.12,132.97 190.06,132.32 191.01,131.68 191.96,131.04 192.92,130.41 193.89,129.79 194.86,129.18 195.84,128.58 196.82,127.98 197.81,127.39 198.81,126.81 199.81,126.24 200.82,125.67 201.83,125.12 202.84,124.56 203.87,124.02 204.89,123.49 205.92,122.96 206.96,122.44 208.00,121.93 209.04,121.42 210.09,120.92 211.15,120.43 212.20,119.95 213.26,119.48 214.33,119.01 215.40,118.55 216.47,118.10 217.54,117.66 218.62,117.22 219.70,116.79 220.79,116.37 221.88,115.95 222.97,115.55 224.06,115.15 225.15,114.76 226.25,114.37 227.35,114.00 228.46,113.63 229.56,113.27 230.00,113.10 231.91,112.51 233.82,111.94 235.73,111.39 237.65,110.87 239.56,110.37 241.47,109.88 243.38,109.42 245.29,108.97 247.20,108.54 249.11,108.13 251.03,107.73 252.94,107.35 254.85,106.99 256.76,106.64 258.67,106.30 260.58,105.98 262.49,105.67 264.41,105.37 266.32,105.08 268.23,104.81 270.14,104.54 272.05,104.29 273.96,104.04 275.87,103.81 277.78,103.59 279.70,103.37 281.61,103.16 283.52,102.96 285.43,102.77 287.34,102.59 289.25,102.41 291.16,102.24 293.08,102.08 294.99,101.92 296.90,101.77 298.81,101.63 300.72,101.49 302.63,101.35 304.54,101.23 306.46,101.10 308.37,100.98 310.28,100.87 312.19,100.76 314.10,100.66 316.01,100.56 317.92,100.46 319.84,100.37 321.75,100.28 323.66,100.19 325.57,100.11 327.48,100.03 329.39,99.96 331.30,99.88 333.22,99.81 335.13,99.75 337.04,99.68 338.95,99.62 340.86,99.56 342.77,99.50 344.68,99.45 346.59,99.39 348.51,99.34 350.42,99.30 352.33,99.25 354.24,99.20 356.15,99.16 358.06,99.12 359.97,99.08 361.89,99.04 363.80,99.00 365.71,98.97 367.62,98.94 369.53,98.90 371.44,98.87 373.35,98.84 375.27,98.81 377.18,98.79 379.09,98.76 381.00,98.73" stroke="#e27f27" stroke-width="3" fill="none" stroke-linejoin="round"/>
<polyline points="109.80,483.40 109.80,482.30 109.80,481.19 109.80,480.09 109.80,478.98 109.80,477.88 109.80,476.77 109.80,475.67 109.80,474.57 109.80,473.46 109.80,472.36 109.80,471.25 109.80,470.15 109.80,469.04 109.80,467.94 109.80,466.84 109.80,465.73 109.80,464.63 109.80,463.52 109.80,462.42 109.80,461.31 109.80,460.21 109.80,459.11 109.80,458.00 109.80,456.90 109.80,455.79 109.81,454.69 109.81,453.59 109.81,452.48 109.81,451.38 109.82,450.27 109.82,449.17 109.82,448.06 109.83,446.96 109.83,445.86 109.83,444.75 109.84,443.65 109.84,442.54 109.85,441.44 109.86,440.33 109.86,439.23 109.87,438.13 109.88,437.02 109.88,435.92 109.89,434.81 109.90,433.71 109.91,432.61 109.92,431.50 109.93,430.40 109.94,429.29 109.95,428.19 109.97,427.09 109.98,425.98 109.99,424.88 110.01,423.77 110.02,422.67 110.04,421.57 110.05,420.46 110.07,419.36 110.09,418.26 110.11,417.15 110.13,416.05 110.15,414.94 110.17,413.84 110.19,412.74 110.21,411.63 110.23,410.53 110.26,409.43 110.28,408.32 110.31,407.22 110.33,406.12 110.36,405.01 110.39,403.91 110.42,402.80 110.45,401.70 110.48,400.60 110.51,399.49 110.54,398.39 110.58,397.29 110.61,396.18 110.65,395.08 110.68,393.98 110.72,392.87 110.76,391.77 110.80,390.67 110.84,389.57 110.88,388.46 110.93,387.36 110.97,386.26 111.02,385.15 111.06,384.05 111.11,382.95 111.16,381.85 111.21,380.74 111.26,379.64 111.32,378.54 111.37,377.43 111.43,376.33 111.48,375.23 111.54,374.13 111.60,373.02 111.66,371.92 111.72,370.82 111.78,369.72 111.85,368.61 111.92,367.51 111.98,366.41 112.05,365.31 112.12,364.21 112.19,363.10 112.27,362.00 112.34,360.90 112.42,359.80 112.49,358.70 112.57,357.59 112.65,356.49 112.74,355.39 112.82,354.29 112.90,353.19 112.99,352.09 113.08,350.98 113.17,349.88 113.26,348.78 113.35,347.68 113.45,346.58 113.54,345.48 113.64,344.38 113.74,343.27 113.84,342.17 113.95,341.07 114.05,339.97 114.16,338.87 114.27,337.77 114.38,336.67 114.49,335.57 114.60,334.47 114.72,333.37 114.84,332.27 114.96,331.17 115.08,330.07 115.20,328.97 115.33,327.86 115.45,326.76 115.58,325.66 115.71,324.56 115.85,323.46 115.98,322.36 116.12,321.26 116.26,320.16 116.40,319.06 116.54,317.96 116.68,316.87 116.83,315.77 116.98,314.67 117.13,313.57 117.28,312.47 117.44,311.37 117.60,310.27 117.76,309.17 117.92,308.07 118.08,306.97 118.25,305.87 118.42,304.77 118.59,303.67 118.76,302.58 118.93,301.48 119.11,300.38 119.29,299.28 119.47,298.18 119.66,297.08 119.84,295.99 120.03,294.89 120.22,293.79 120.41,292.69 120.61,291.59 120.81,290.50 121.01,289.40 121.21,288.30 121.42,287.20 121.62,286.10 121.84,285.01 122.05,283.91 122.26,282.81 122.48,281.72 122.70,280.62 122.92,279.52 123.15,278.43 123.38,277.33 123.61,276.23 123.84,275.14 124.08,274.04 124.32,272.95 124.56,271.86 124.81,270.76 125.06,269.67 125.31,268.58 125.56,267.49 125.82,266.40 126.08,265.31 126.34,264.22 126.61,263.13 126.88,262.05 127.15,260.96 127.43,259.88 127.71,258.79 127.99,257.71 128.28,256.63 128.57,255.55 128.87,254.47 129.16,253.39 129.46,252.31 129.77,251.24 130.08,250.17 130.39,249.09 130.71,248.02 131.03,246.95 131.35,245.89 131.68,244.82 132.01,243.76 132.34,242.69 132.68,241.63 133.03,240.57 133.37,239.52 133.72,238.46 134.08,237.41 134.44,236.36 134.80,235.31 135.17,234.26 135.54,233.22 135.92,232.17 136.30,231.13 136.69,230.09 137.08,229.06 137.47,228.02 137.87,226.99 138.27,225.96 138.68,224.94 139.10,223.91 139.51,222.89 139.93,221.87 140.36,220.86 140.79,219.84 141.23,218.83 141.67,217.82 142.12,216.82 142.57,215.82 143.02,214.82 143.49,213.82 143.95,212.83 144.42,211.83 144.90,210.85 145.38,209.86 145.87,208.88 146.36,207.90 146.86,206.93 147.36,205.96 147.87,204.99 148.38,204.02 148.90,203.06 149.43,202.10 149.96,201.15 150.49,200.20 151.03,199.25 151.58,198.30 152.13,197.36 152.69,196.43 153.26,195.49 153.83,194.57 154.40,193.64 154.98,192.72 155.57,191.80 156.16,190.89 156.76,189.98 157.37,189.07 157.98,188.17 158.60,187.27 159.22,186.38 159.85,185.49 160.48,184.61 161.12,183.73 161.77,182.85 162.42,181.98 163.08,181.11 163.74,180.24 164.41,179.39 165.09,178.53 165.77,177.68 166.45,176.83 167.14,175.99 167.84,175.15 168.54,174.32 169.25,173.49 169.96,172.66 170.68,171.84 171.40,171.03 172.13,170.22 172.87,169.41 173.61,168.61 174.35,167.81 175.10,167.02 175.85,166.23 176.61,165.45 177.38,164.67 178.15,163.89 178.92,163.13 179.70,162.36 180.48,161.60 181.27,160.85 182.07,160.10 182.87,159.35 183.67,158.61 184.48,157.87 185.29,157.14 186.11,156.42 186.93,155.70 187.76,154.98 188.59,154.27 189.42,153.56 190.26,152.86 191.11,152.17 191.96,151.47 192.81,150.79 193.67,150.11 194.53,149.43 195.40,148.76 196.27,148.10 197.14,147.44 198.02,146.78 198.90,146.13 199.79,145.49 200.68,144.85 201.58,144.21 202.48,143.59 203.38,142.96 204.29,142.35 205.20,141.73 206.11,141.13 207.03,140.52 207.95,139.93 208.88,139.34 209.81,138.75 210.75,138.17 211.68,137.60 212.62,137.03 213.57,136.47 214.52,135.91 215.47,135.36 216.43,134.81 217.38,134.27 218.35,133.74 219.31,133.21 220.28,132.69 221.25,132.17 222.23,131.66 223.21,131.15 224.19,130.66 225.18,130.16 226.17,129.67 227.16,129.19 228.15,128.71 229.15,128.24 230.00,127.74 232.71,126.59 235.42,125.49 238.13,124.43 240.84,123.40 243.54,122.42 246.25,121.48 248.96,120.57 251.67,119.69 254.38,118.85 257.09,118.04 259.80,117.27 262.51,116.52 265.22,115.80 267.92,115.11 270.63,114.45 273.34,113.81 276.05,113.19 278.76,112.60 281.47,112.03 284.18,111.49 286.89,110.96 289.59,110.45 292.30,109.97 295.01,109.50 297.72,109.05 300.43,108.62 303.14,108.20 305.85,107.80 308.56,107.42 311.27,107.05 313.97,106.69 316.68,106.35 319.39,106.02 322.10,105.71 324.81,105.40 327.52,105.11 330.23,104.83 332.94,104.56 335.65,104.30 338.35,104.05 341.06,103.81 343.77,103.57 346.48,103.35 349.19,103.14 351.90,102.93 354.61,102.73 357.32,102.54 360.03,102.36 362.73,102.19 365.44,102.02 368.15,101.85 370.86,101.70 373.57,101.55 376.28,101.40 378.99,101.26 381.70,101.13 384.41,101.00 387.11,100.88 389.82,100.76 392.53,100.64 395.24,100.53 397.95,100.43 400.66,100.32 403.37,100.23 406.08,100.13 408.78,100.04 411.49,99.95 414.20,99.87 416.91,99.79 419.62,99.71 422.33,99.64 425.04,99.57 427.75,99.50 430.46,99.43 433.16,99.37 435.87,99.31 438.58,99.25 441.29,99.19 444.00,99.14" stroke="#e27f27" stroke-width="3" fill="none" stroke-linejoin="round"/>
<polyline points="109.80,483.40 109.78,482.34 109.76,481.28 109.75,480.22 109.73,479.16 109.72,478.10 109.70,477.04 109.69,475.99 109.68,474.93 109.67,473.87 109.67,472.82 109.66,471.76 109.66,470.71 109.66,469.66 109.66,468.61 109.66,467.55 109.66,466.50 109.66,465.45 109.67,464.40 109.67,463.35 109.68,462.30 109.69,461.25 109.70,460.21 109.71,459.16 109.72,458.11 109.74,457.07 109.75,456.02 109.77,454.97 109.79,453.93 109.81,452.88 109.83,451.84 109.85,450.80 109.87,449.75 109.89,448.71 109.92,447.67 109.94,446.62 109.97,445.58 110.00,444.54 110.03,443.50 110.06,442.46 110.09,441.42 110.12,440.37 110.16,439.33 110.19,438.29 110.23,437.25 110.26,436.21 110.30,435.17 110.34,434.13 110.38,433.09 110.42,432.05 110.46,431.02 110.50,429.98 110.55,428.94 110.59,427.90 110.64,426.86 110.68,425.82 110.73,424.78 110.78,423.74 110.82,422.70 110.87,421.66 110.92,420.63 110.97,419.59 111.02,418.55 111.08,417.51 111.13,416.47 111.18,415.43 111.24,414.39 111.29,413.35 111.35,412.31 111.40,411.27 111.46,410.23 111.52,409.19 111.58,408.15 111.64,407.11 111.70,406.07 111.76,405.03 111.82,403.99 111.88,402.95 111.94,401.91 112.00,400.86 112.07,399.82 112.13,398.78 112.19,397.74 112.26,396.69 112.32,395.65 112.39,394.60 112.45,393.56 112.52,392.51 112.58,391.47 112.65,390.42 112.72,389.38 112.79,388.33 112.85,387.28 112.92,386.24 112.99,385.19 113.06,384.14 113.13,383.09 113.20,382.04 113.27,380.99 113.34,379.94 113.41,378.89 113.48,377.83 113.55,376.78 113.62,375.73 113.69,374.68 113.76,373.62 113.84,372.57 113.91,371.51 113.98,370.46 114.06,369.40 114.13,368.34 114.21,367.29 114.28,366.23 114.36,365.17 114.44,364.12 114.51,363.06 114.59,362.00 114.67,360.94 114.75,359.88 114.83,358.82 114.91,357.76 115.00,356.71 115.08,355.65 115.17,354.59 115.25,353.53 115.34,352.47 115.43,351.41 115.52,350.35 115.61,349.29 115.70,348.23 115.79,347.17 115.89,346.11 115.98,345.05 116.08,343.99 116.18,342.93 116.28,341.87 116.38,340.81 116.48,339.75 116.58,338.69 116.69,337.63 116.79,336.57 116.90,335.51 117.01,334.46 117.12,333.40 117.24,332.34 117.35,331.28 117.47,330.23 117.59,329.17 117.71,328.11 117.83,327.06 117.95,326.00 118.08,324.94 118.21,323.89 118.34,322.84 118.47,321.78 118.60,320.73 118.74,319.67 118.88,318.62 119.02,317.57 119.16,316.52 119.30,315.47 119.45,314.42 119.60,313.37 119.75,312.32 119.91,311.27 120.06,310.22 120.22,309.18 120.38,308.13 120.54,307.09 120.71,306.04 120.88,305.00 121.05,303.95 121.22,302.91 121.40,301.87 121.58,300.83 121.76,299.79 121.94,298.75 122.13,297.71 122.32,296.68 122.51,295.64 122.71,294.61 122.90,293.57 123.11,292.54 123.31,291.51 123.52,290.48 123.73,289.45 123.94,288.42 124.16,287.39 124.37,286.36 124.60,285.34 124.82,284.31 125.05,283.29 125.28,282.27 125.52,281.25 125.76,280.23 126.00,279.21 126.24,278.20 126.49,277.18 126.74,276.17 127.00,275.15 127.26,274.14 127.52,273.13 127.79,272.12 128.06,271.12 128.33,270.11 128.61,269.11 128.89,268.10 129.17,267.10 129.46,266.10 129.75,265.10 130.05,264.11 130.34,263.11 130.65,262.12 130.96,261.13 131.27,260.14 131.58,259.15 131.90,258.16 132.22,257.18 132.55,256.19 132.88,255.21 133.22,254.23 133.56,253.25 133.90,252.28 134.25,251.30 134.60,250.33 134.96,249.36 135.32,248.39 135.68,247.42 136.05,246.46 136.43,245.50 136.81,244.53 137.19,243.57 137.58,242.62 137.97,241.66 138.37,240.71 138.77,239.76 139.17,238.81 139.58,237.86 140.00,236.92 140.42,235.97 140.85,235.03 141.28,234.09 141.71,233.16 142.15,232.22 142.59,231.29 143.04,230.36 143.50,229.43 143.96,228.51 144.42,227.59 144.89,226.67 145.37,225.75 145.85,224.83 146.33,223.92 146.82,223.01 147.32,222.10 147.82,221.19 148.32,220.29 148.83,219.39 149.35,218.49 149.87,217.59 150.40,216.70 150.93,215.81 151.47,214.92 152.02,214.03 152.57,213.15 153.12,212.27 153.68,211.39 154.25,210.52 154.82,209.65 155.40,208.78 155.98,207.91 156.57,207.05 157.16,206.19 157.76,205.34 158.36,204.49 158.97,203.64 159.59,202.80 160.21,201.96 160.83,201.12 161.47,200.29 162.10,199.47 162.75,198.64 163.39,197.82 164.05,197.01 164.71,196.20 165.37,195.40 166.04,194.59 166.72,193.80 167.40,193.01 168.09,192.22 168.78,191.44 169.48,190.67 170.18,189.90 170.89,189.13 171.60,188.37 172.32,187.62 173.04,186.87 173.77,186.13 174.51,185.39 175.25,184.66 176.00,183.93 176.75,183.21 177.51,182.50 178.27,181.79 179.04,181.09 179.81,180.40 180.59,179.71 181.38,179.03 182.17,178.35 182.96,177.69 183.76,177.03 184.57,176.37 185.38,175.73 186.20,175.09 187.02,174.45 187.85,173.83 188.68,173.21 189.52,172.60 190.37,171.99 191.22,171.40 192.07,170.81 192.93,170.23 193.80,169.66 194.67,169.10 195.55,168.54 196.43,167.99 197.32,167.45 198.21,166.92 199.11,166.40 200.02,165.88 200.93,165.38 201.84,164.88 202.76,164.39 203.69,163.91 204.62,163.44 205.55,162.97 206.49,162.52 207.43,162.07 208.38,161.63 209.33,161.19 210.29,160.77 211.25,160.35 212.22,159.94 213.18,159.53 214.16,159.13 215.13,158.74 216.11,158.36 217.09,157.98 218.08,157.61 219.06,157.24 220.06,156.88 221.05,156.53 222.05,156.18 223.04,155.84 224.04,155.50 225.05,155.17 226.05,154.84 227.06,154.52 228.07,154.21 229.08,153.90 230.00,153.74 232.21,153.06 234.42,152.41 236.63,151.78 238.85,151.17 241.06,150.58 243.27,150.01 245.48,149.46 247.69,148.93 249.90,148.41 252.11,147.92 254.33,147.44 256.54,146.98 258.75,146.53 260.96,146.10 263.17,145.68 265.38,145.28 267.59,144.89 269.81,144.52 272.02,144.15 274.23,143.80 276.44,143.47 278.65,143.14 280.86,142.82 283.07,142.52 285.28,142.23 287.50,141.94 289.71,141.67 291.92,141.40 294.13,141.15 296.34,140.90 298.55,140.66 300.76,140.43 302.98,140.21 305.19,139.99 307.40,139.79 309.61,139.59 311.82,139.39 314.03,139.21 316.24,139.02 318.46,138.85 320.67,138.68 322.88,138.52 325.09,138.36 327.30,138.21 329.51,138.06 331.72,137.92 333.94,137.79 336.15,137.65 338.36,137.53 340.57,137.40 342.78,137.28 344.99,137.17 347.20,137.06 349.42,136.95 351.63,136.85 353.84,136.75 356.05,136.65 358.26,136.56 360.47,136.47 362.68,136.38 364.89,136.30 367.11,136.22 369.32,136.14 371.53,136.06 373.74,135.99 375.95,135.92 378.16,135.85 380.37,135.78 382.59,135.72 384.80,135.66 387.01,135.60 389.22,135.54 391.43,135.49 393.64,135.43 395.85,135.38 398.07,135.33 400.28,135.28 402.49,135.24 404.70,135.19" stroke="#5e9f38" stroke-width="3" fill="none" stroke-linejoin="round"/>
<polyline points="110.70,485.00 110.68,483.94 110.66,482.88 110.65,481.82 110.63,480.76 110.62,479.70 110.60,478.64 110.59,477.59 110.58,476.53 110.57,475.47 110.57,474.42 110.56,473.36 110.56,472.31 110.56,471.26 110.56,470.21 110.56,469.15 110.56,468.10 110.56,467.05 110.57,466.00 110.57,464.95 110.58,463.90 110.59,462.85 110.60,461.81 110.61,460.76 110.62,459.71 110.64,458.67 110.65,457.62 110.67,456.57 110.69,455.53 110.71,454.48 110.73,453.44 110.75,452.40 110.77,451.35 110.79,450.31 110.82,449.27 110.84,448.22 110.87,447.18 110.90,446.14 110.93,445.10 110.96,444.06 110.99,443.02 111.02,441.97 111.06,440.93 111.09,439.89 111.13,438.85 111.16,437.81 111.20,436.77 111.24,435.73 111.28,434.69 111.32,433.65 111.36,432.62 111.40,431.58 111.45,430.54 111.49,429.50 111.54,428.46 111.58,427.42 111.63,426.38 111.68,425.34 111.72,424.30 111.77,423.26 111.82,422.23 111.87,421.19 111.92,420.15 111.98,419.11 112.03,418.07 112.08,417.03 112.14,415.99 112.19,414.95 112.25,413.91 112.30,412.87 112.36,411.83 112.42,410.79 112.48,409.75 112.54,408.71 112.60,407.67 112.66,406.63 112.72,405.59 112.78,404.55 112.84,403.51 112.90,402.46 112.97,401.42 113.03,400.38 113.09,399.34 113.16,398.29 113.22,397.25 113.29,396.20 113.35,395.16 113.42,394.11 113.48,393.07 113.55,392.02 113.62,390.98 113.69,389.93 113.75,388.88 113.82,387.84 113.89,386.79 113.96,385.74 114.03,384.69 114.10,383.64 114.17,382.59 114.24,381.54 114.31,380.49 114.38,379.43 114.45,378.38 114.52,377.33 114.59,376.28 114.66,375.22 114.74,374.17 114.81,373.11 114.88,372.06 114.96,371.00 115.03,369.94 115.11,368.89 115.18,367.83 115.26,366.77 115.34,365.72 115.41,364.66 115.49,363.60 115.57,362.54 115.65,361.48 115.73,360.42 115.81,359.36 115.90,358.31 115.98,357.25 116.07,356.19 116.15,355.13 116.24,354.07 116.33,353.01 116.42,351.95 116.51,350.89 116.60,349.83 116.69,348.77 116.79,347.71 116.88,346.65 116.98,345.59 117.08,344.53 117.18,343.47 117.28,342.41 117.38,341.35 117.48,340.29 117.59,339.23 117.69,338.17 117.80,337.11 117.91,336.06 118.02,335.00 118.14,333.94 118.25,332.88 118.37,331.83 118.49,330.77 118.61,329.71 118.73,328.66 118.85,327.60 118.98,326.54 119.11,325.49 119.24,324.44 119.37,323.38 119.50,322.33 119.64,321.27 119.78,320.22 119.92,319.17 120.06,318.12 120.20,317.07 120.35,316.02 120.50,314.97 120.65,313.92 120.81,312.87 120.96,311.82 121.12,310.78 121.28,309.73 121.44,308.69 121.61,307.64 121.78,306.60 121.95,305.55 122.12,304.51 122.30,303.47 122.48,302.43 122.66,301.39 122.84,300.35 123.03,299.31 123.22,298.28 123.41,297.24 123.61,296.21 123.80,295.17 124.01,294.14 124.21,293.11 124.42,292.08 124.63,291.05 124.84,290.02 125.06,288.99 125.27,287.96 125.50,286.94 125.72,285.91 125.95,284.89 126.18,283.87 126.42,282.85 126.66,281.83 126.90,280.81 127.14,279.80 127.39,278.78 127.64,277.77 127.90,276.75 128.16,275.74 128.42,274.73 128.69,273.72 128.96,272.72 129.23,271.71 129.51,270.71 129.79,269.70 130.07,268.70 130.36,267.70 130.65,266.70 130.95,265.71 131.24,264.71 131.55,263.72 131.86,262.73 132.17,261.74 132.48,260.75 132.80,259.76 133.12,258.78 133.45,257.79 133.78,256.81 134.12,255.83 134.46,254.85 134.80,253.88 135.15,252.90 135.50,251.93 135.86,250.96 136.22,249.99 136.58,249.02 136.95,248.06 137.33,247.10 137.71,246.13 138.09,245.17 138.48,244.22 138.87,243.26 139.27,242.31 139.67,241.36 140.07,240.41 140.48,239.46 140.90,238.52 141.32,237.57 141.75,236.63 142.18,235.69 142.61,234.76 143.05,233.82 143.49,232.89 143.94,231.96 144.40,231.03 144.86,230.11 145.32,229.19 145.79,228.27 146.27,227.35 146.75,226.43 147.23,225.52 147.72,224.61 148.22,223.70 148.72,222.79 149.22,221.89 149.73,220.99 150.25,220.09 150.77,219.19 151.30,218.30 151.83,217.41 152.37,216.52 152.92,215.63 153.47,214.75 154.02,213.87 154.58,212.99 155.15,212.12 155.72,211.25 156.30,210.38 156.88,209.51 157.47,208.65 158.06,207.79 158.66,206.94 159.26,206.09 159.87,205.24 160.49,204.40 161.11,203.56 161.73,202.72 162.37,201.89 163.00,201.07 163.65,200.24 164.29,199.42 164.95,198.61 165.61,197.80 166.27,197.00 166.94,196.19 167.62,195.40 168.30,194.61 168.99,193.82 169.68,193.04 170.38,192.27 171.08,191.50 171.79,190.73 172.50,189.97 173.22,189.22 173.94,188.47 174.67,187.73 175.41,186.99 176.15,186.26 176.90,185.53 177.65,184.81 178.41,184.10 179.17,183.39 179.94,182.69 180.71,182.00 181.49,181.31 182.28,180.63 183.07,179.95 183.86,179.29 184.66,178.63 185.47,177.97 186.28,177.33 187.10,176.69 187.92,176.05 188.75,175.43 189.58,174.81 190.42,174.20 191.27,173.59 192.12,173.00 192.97,172.41 193.83,171.83 194.70,171.26 195.57,170.70 196.45,170.14 197.33,169.59 198.22,169.05 199.11,168.52 200.01,168.00 200.92,167.48 201.83,166.98 202.74,166.48 203.66,165.99 204.59,165.51 205.52,165.04 206.45,164.57 207.39,164.12 208.33,163.67 209.28,163.23 210.23,162.79 211.19,162.37 212.15,161.95 213.12,161.54 214.08,161.13 215.06,160.73 216.03,160.34 217.01,159.96 217.99,159.58 218.98,159.21 219.96,158.84 220.96,158.48 221.95,158.13 222.95,157.78 223.94,157.44 224.94,157.10 225.95,156.77 226.95,156.44 227.96,156.12 228.97,155.81 229.98,155.50 230.90,155.34 233.11,154.66 235.32,154.01 237.53,153.38 239.75,152.77 241.96,152.18 244.17,151.61 246.38,151.06 248.59,150.53 250.80,150.01 253.01,149.52 255.23,149.04 257.44,148.58 259.65,148.13 261.86,147.70 264.07,147.28 266.28,146.88 268.49,146.49 270.71,146.12 272.92,145.75 275.13,145.40 277.34,145.07 279.55,144.74 281.76,144.42 283.97,144.12 286.18,143.83 288.40,143.54 290.61,143.27 292.82,143.00 295.03,142.75 297.24,142.50 299.45,142.26 301.66,142.03 303.88,141.81 306.09,141.59 308.30,141.39 310.51,141.19 312.72,140.99 314.93,140.81 317.14,140.62 319.36,140.45 321.57,140.28 323.78,140.12 325.99,139.96 328.20,139.81 330.41,139.66 332.62,139.52 334.84,139.39 337.05,139.25 339.26,139.13 341.47,139.00 343.68,138.88 345.89,138.77 348.10,138.66 350.32,138.55 352.53,138.45 354.74,138.35 356.95,138.25 359.16,138.16 361.37,138.07 363.58,137.98 365.79,137.90 368.01,137.82 370.22,137.74 372.43,137.66 374.64,137.59 376.85,137.52 379.06,137.45 381.27,137.38 383.49,137.32 385.70,137.26 387.91,137.20 390.12,137.14 392.33,137.09 394.54,137.03 396.75,136.98 398.97,136.93 401.18,136.88 403.39,136.84 437.10,136.90" stroke="#5e9f38" stroke-width="3" fill="none" stroke-linejoin="round"/>
<polyline points="109.80,483.40 109.79,482.38 109.79,481.37 109.79,480.35 109.79,479.34 109.78,478.33 109.78,477.31 109.78,476.30 109.78,475.28 109.78,474.27 109.79,473.26 109.79,472.25 109.79,471.23 109.80,470.22 109.80,469.21 109.81,468.20 109.81,467.19 109.82,466.18 109.83,465.17 109.84,464.16 109.85,463.15 109.86,462.14 109.87,461.13 109.88,460.12 109.89,459.11 109.90,458.10 109.91,457.09 109.93,456.08 109.94,455.07 109.96,454.07 109.97,453.06 109.99,452.05 110.01,451.04 110.03,450.04 110.04,449.03 110.06,448.02 110.08,447.01 110.10,446.01 110.12,445.00 110.15,443.99 110.17,442.98 110.19,441.98 110.21,440.97 110.24,439.96 110.26,438.96 110.29,437.95 110.32,436.94 110.34,435.94 110.37,434.93 110.40,433.92 110.43,432.92 110.45,431.91 110.48,430.90 110.51,429.90 110.55,428.89 110.58,427.88 110.61,426.88 110.64,425.87 110.68,424.86 110.71,423.86 110.74,422.85 110.78,421.84 110.81,420.84 110.85,419.83 110.89,418.82 110.92,417.81 110.96,416.81 111.00,415.80 111.04,414.79 111.08,413.78 111.12,412.78 111.16,411.77 111.20,410.76 111.24,409.75 111.28,408.74 111.33,407.73 111.37,406.72 111.41,405.71 111.46,404.70 111.50,403.69 111.55,402.68 111.59,401.67 111.64,400.66 111.69,399.65 111.73,398.64 111.78,397.63 111.83,396.62 111.88,395.61 111.93,394.59 111.98,393.58 112.03,392.57 112.08,391.55 112.13,390.54 112.18,389.53 112.23,388.51 112.29,387.50 112.34,386.48 112.39,385.47 112.45,384.45 112.50,383.44 112.56,382.42 112.61,381.40 112.67,380.39 112.72,379.37 112.78,378.35 112.84,377.33 112.90,376.31 112.95,375.30 113.01,374.28 113.07,373.26 113.13,372.24 113.19,371.22 113.26,370.20 113.32,369.18 113.38,368.15 113.45,367.13 113.51,366.11 113.58,365.09 113.64,364.07 113.71,363.05 113.78,362.02 113.85,361.00 113.92,359.98 114.00,358.96 114.07,357.93 114.15,356.91 114.22,355.89 114.30,354.87 114.38,353.84 114.46,352.82 114.54,351.80 114.63,350.78 114.71,349.75 114.80,348.73 114.89,347.71 114.98,346.69 115.07,345.66 115.16,344.64 115.26,343.62 115.36,342.60 115.46,341.58 115.56,340.56 115.66,339.54 115.76,338.51 115.87,337.49 115.98,336.47 116.09,335.45 116.20,334.43 116.32,333.42 116.44,332.40 116.56,331.38 116.68,330.36 116.80,329.34 116.93,328.32 117.06,327.31 117.19,326.29 117.32,325.27 117.46,324.26 117.60,323.24 117.74,322.23 117.88,321.21 118.03,320.20 118.18,319.19 118.33,318.17 118.48,317.16 118.64,316.15 118.80,315.14 118.96,314.13 119.13,313.12 119.30,312.11 119.47,311.10 119.64,310.10 119.82,309.09 120.00,308.08 120.19,307.08 120.38,306.07 120.57,305.07 120.76,304.07 120.96,303.07 121.16,302.06 121.36,301.06 121.57,300.06 121.78,299.07 121.99,298.07 122.21,297.07 122.43,296.08 122.66,295.08 122.89,294.09 123.12,293.09 123.35,292.10 123.59,291.11 123.84,290.12 124.09,289.13 124.34,288.14 124.59,287.16 124.85,286.17 125.11,285.19 125.38,284.20 125.65,283.22 125.93,282.24 126.21,281.26 126.49,280.28 126.78,279.30 127.07,278.33 127.36,277.35 127.67,276.38 127.97,275.41 128.28,274.43 128.59,273.47 128.91,272.50 129.23,271.53 129.56,270.57 129.89,269.60 130.22,268.64 130.56,267.68 130.91,266.72 131.26,265.77 131.61,264.81 131.97,263.86 132.33,262.91 132.69,261.96 133.06,261.02 133.44,260.07 133.82,259.13 134.20,258.19 134.59,257.26 134.99,256.32 135.38,255.39 135.79,254.46 136.19,253.53 136.61,252.61 137.02,251.69 137.44,250.77 137.87,249.85 138.30,248.94 138.73,248.03 139.17,247.12 139.62,246.21 140.07,245.31 140.52,244.41 140.98,243.52 141.44,242.62 141.91,241.73 142.38,240.85 142.86,239.96 143.35,239.08 143.83,238.21 144.33,237.33 144.82,236.46 145.32,235.60 145.83,234.73 146.34,233.87 146.86,233.02 147.38,232.17 147.91,231.32 148.44,230.48 148.98,229.64 149.52,228.80 150.06,227.97 150.62,227.14 151.17,226.31 151.73,225.49 152.30,224.68 152.87,223.87 153.45,223.06 154.03,222.26 154.62,221.46 155.21,220.66 155.81,219.87 156.41,219.09 157.02,218.31 157.63,217.53 158.25,216.76 158.87,215.99 159.50,215.23 160.13,214.47 160.77,213.72 161.42,212.97 162.07,212.23 162.72,211.49 163.38,210.76 164.05,210.03 164.72,209.31 165.39,208.59 166.07,207.88 166.76,207.18 167.45,206.48 168.15,205.78 168.85,205.09 169.56,204.41 170.28,203.73 170.99,203.05 171.72,202.39 172.45,201.72 173.18,201.07 173.93,200.42 174.67,199.77 175.42,199.13 176.18,198.50 176.94,197.87 177.71,197.25 178.48,196.64 179.26,196.03 180.05,195.42 180.83,194.83 181.63,194.23 182.43,193.65 183.23,193.07 184.04,192.49 184.85,191.92 185.67,191.36 186.49,190.80 187.31,190.25 188.15,189.70 188.98,189.16 189.82,188.63 190.66,188.10 191.51,187.57 192.37,187.06 193.22,186.54 194.08,186.04 194.95,185.54 195.82,185.04 196.69,184.55 197.56,184.07 198.44,183.59 199.33,183.12 200.22,182.65 201.11,182.19 202.00,181.73 202.90,181.28 203.80,180.84 204.71,180.40 205.62,179.97 206.53,179.54 207.44,179.12 208.36,178.70 209.28,178.29 210.21,177.88 211.13,177.48 212.06,177.09 213.00,176.70 213.93,176.32 214.87,175.94 215.81,175.57 216.76,175.20 217.70,174.84 218.65,174.48 219.60,174.13 220.56,173.79 221.52,173.45 222.47,173.11 223.43,172.78 224.40,172.46 225.36,172.14 226.33,171.83 227.30,171.52 228.27,171.22 229.24,170.92 230.00,170.61 231.84,170.12 233.68,169.64 235.52,169.18 237.36,168.74 239.20,168.31 241.04,167.90 242.87,167.51 244.71,167.13 246.55,166.76 248.39,166.41 250.23,166.07 252.07,165.75 253.91,165.43 255.75,165.13 257.59,164.84 259.43,164.56 261.27,164.29 263.11,164.03 264.95,163.78 266.78,163.54 268.62,163.31 270.46,163.08 272.30,162.87 274.14,162.66 275.98,162.46 277.82,162.27 279.66,162.09 281.50,161.91 283.34,161.74 285.18,161.57 287.02,161.42 288.86,161.26 290.69,161.12 292.53,160.98 294.37,160.84 296.21,160.71 298.05,160.58 299.89,160.46 301.73,160.35 303.57,160.23 305.41,160.12 307.25,160.02 309.09,159.92 310.93,159.82 312.77,159.73 314.61,159.64 316.44,159.56 318.28,159.47 320.12,159.39 321.96,159.32 323.80,159.24 325.64,159.17 327.48,159.10 329.32,159.04 331.16,158.97 333.00,158.91 334.84,158.85 336.68,158.80 338.52,158.74 340.35,158.69 342.19,158.64 344.03,158.59 345.87,158.54 347.71,158.50 349.55,158.45 351.39,158.41 353.23,158.37 355.07,158.33 356.91,158.30 358.75,158.26 360.59,158.23 362.43,158.19 364.26,158.16 366.10,158.13 367.94,158.10 369.78,158.07 371.62,158.04 373.46,158.02 375.30,157.99" stroke="#5e9f38" stroke-width="3" fill="none" stroke-linejoin="round"/>
<polyline points="109.80,483.40 109.79,482.35 109.78,481.30 109.77,480.25 109.76,479.21 109.75,478.16 109.75,477.11 109.74,476.06 109.74,475.02 109.73,473.97 109.73,472.92 109.73,471.88 109.73,470.83 109.73,469.79 109.73,468.74 109.74,467.69 109.74,466.65 109.75,465.60 109.76,464.56 109.76,463.52 109.77,462.47 109.78,461.43 109.80,460.38 109.81,459.34 109.82,458.30 109.84,457.25 109.85,456.21 109.87,455.17 109.89,454.12 109.91,453.08 109.93,452.04 109.95,451.00 109.97,449.95 110.00,448.91 110.02,447.87 110.05,446.83 110.07,445.79 110.10,444.74 110.13,443.70 110.16,442.66 110.19,441.62 110.23,440.58 110.26,439.54 110.29,438.50 110.33,437.46 110.37,436.41 110.40,435.37 110.44,434.33 110.48,433.29 110.52,432.25 110.56,431.21 110.61,430.17 110.65,429.13 110.70,428.09 110.74,427.05 110.79,426.01 110.84,424.97 110.89,423.93 110.94,422.89 110.99,421.85 111.04,420.81 111.09,419.77 111.15,418.73 111.20,417.69 111.26,416.65 111.32,415.61 111.37,414.57 111.43,413.53 111.49,412.49 111.56,411.45 111.62,410.41 111.68,409.37 111.75,408.33 111.81,407.29 111.88,406.25 111.94,405.21 112.01,404.16 112.08,403.12 112.15,402.08 112.22,401.04 112.30,400.00 112.37,398.96 112.44,397.92 112.52,396.88 112.59,395.84 112.67,394.80 112.75,393.76 112.83,392.71 112.91,391.67 112.99,390.63 113.07,389.59 113.15,388.55 113.24,387.50 113.32,386.46 113.41,385.42 113.50,384.38 113.58,383.33 113.67,382.29 113.76,381.25 113.85,380.21 113.94,379.16 114.04,378.12 114.13,377.08 114.22,376.03 114.32,374.99 114.42,373.94 114.51,372.90 114.61,371.86 114.71,370.81 114.81,369.77 114.91,368.72 115.02,367.68 115.12,366.63 115.23,365.59 115.33,364.54 115.44,363.50 115.55,362.46 115.66,361.41 115.77,360.37 115.88,359.32 116.00,358.28 116.11,357.23 116.23,356.19 116.35,355.14 116.47,354.10 116.59,353.05 116.71,352.01 116.84,350.97 116.96,349.92 117.09,348.88 117.22,347.83 117.35,346.79 117.48,345.75 117.62,344.70 117.75,343.66 117.89,342.62 118.03,341.58 118.17,340.53 118.31,339.49 118.45,338.45 118.60,337.41 118.75,336.36 118.90,335.32 119.05,334.28 119.20,333.24 119.36,332.20 119.51,331.16 119.67,330.12 119.83,329.08 119.99,328.04 120.16,327.00 120.32,325.96 120.49,324.92 120.66,323.89 120.83,322.85 121.01,321.81 121.18,320.77 121.36,319.74 121.54,318.70 121.73,317.66 121.91,316.63 122.10,315.59 122.29,314.56 122.48,313.53 122.67,312.49 122.87,311.46 123.07,310.43 123.27,309.39 123.47,308.36 123.68,307.33 123.88,306.30 124.09,305.27 124.31,304.24 124.52,303.21 124.74,302.18 124.96,301.16 125.18,300.13 125.41,299.10 125.63,298.08 125.86,297.05 126.10,296.03 126.33,295.00 126.57,293.98 126.81,292.96 127.05,291.93 127.30,290.91 127.55,289.89 127.80,288.87 128.05,287.85 128.31,286.83 128.57,285.81 128.83,284.80 129.09,283.78 129.36,282.76 129.63,281.75 129.91,280.73 130.18,279.72 130.46,278.71 130.74,277.70 131.03,276.68 131.32,275.67 131.61,274.67 131.90,273.66 132.20,272.65 132.50,271.64 132.81,270.64 133.11,269.63 133.42,268.63 133.74,267.63 134.06,266.63 134.38,265.63 134.70,264.63 135.03,263.64 135.36,262.64 135.69,261.65 136.03,260.66 136.37,259.67 136.72,258.68 137.07,257.69 137.42,256.71 137.77,255.72 138.13,254.74 138.50,253.76 138.87,252.78 139.24,251.81 139.61,250.83 139.99,249.86 140.38,248.89 140.76,247.92 141.15,246.95 141.55,245.99 141.95,245.03 142.35,244.07 142.76,243.11 143.17,242.15 143.59,241.20 144.01,240.25 144.43,239.30 144.86,238.36 145.30,237.41 145.73,236.47 146.18,235.53 146.62,234.60 147.08,233.66 147.53,232.73 147.99,231.81 148.46,230.88 148.93,229.96 149.40,229.04 149.88,228.12 150.37,227.21 150.85,226.30 151.35,225.39 151.85,224.49 152.35,223.59 152.86,222.69 153.37,221.79 153.89,220.90 154.41,220.01 154.94,219.13 155.48,218.24 156.02,217.37 156.56,216.49 157.11,215.62 157.66,214.75 158.22,213.89 158.79,213.02 159.36,212.17 159.93,211.31 160.51,210.46 161.10,209.62 161.69,208.77 162.29,207.93 162.89,207.10 163.49,206.26 164.10,205.43 164.72,204.61 165.34,203.79 165.97,202.97 166.60,202.16 167.23,201.35 167.87,200.54 168.52,199.74 169.17,198.94 169.82,198.15 170.48,197.35 171.15,196.57 171.82,195.78 172.49,195.01 173.17,194.23 173.85,193.46 174.54,192.69 175.23,191.93 175.93,191.17 176.63,190.41 177.33,189.66 178.04,188.92 178.76,188.17 179.47,187.43 180.20,186.70 180.93,185.97 181.66,185.24 182.39,184.52 183.13,183.80 183.88,183.09 184.63,182.38 185.38,181.67 186.14,180.97 186.90,180.28 187.67,179.58 188.43,178.89 189.21,178.21 189.99,177.53 190.77,176.86 191.55,176.19 192.34,175.52 193.14,174.86 193.94,174.20 194.74,173.55 195.54,172.90 196.35,172.25 197.16,171.61 197.98,170.98 198.80,170.35 199.63,169.72 200.45,169.10 201.29,168.48 202.12,167.87 202.96,167.26 203.80,166.66 204.65,166.06 205.50,165.47 206.35,164.88 207.21,164.30 208.07,163.72 208.93,163.14 209.80,162.57 210.67,162.01 211.55,161.45 212.42,160.89 213.31,160.34 214.19,159.80 215.08,159.26 215.97,158.72 216.86,158.19 217.76,157.66 218.66,157.14 219.56,156.63 220.47,156.11 221.38,155.61 222.29,155.11 223.21,154.61 224.13,154.12 225.05,153.64 225.97,153.15 226.90,152.68 227.83,152.21 228.77,151.74 229.70,151.28 230.00,151.06 234.24,149.17 238.48,147.38 242.73,145.68 246.97,144.08 251.21,142.57 255.45,141.13 259.69,139.78 263.93,138.50 268.18,137.28 272.42,136.14 276.66,135.05 280.90,134.03 285.14,133.06 289.38,132.14 293.63,131.27 297.87,130.45 302.11,129.68 306.35,128.94 310.59,128.25 314.84,127.59 319.08,126.97 323.32,126.38 327.56,125.83 331.80,125.30 336.04,124.81 340.29,124.34 344.53,123.89 348.77,123.47 353.01,123.07 357.25,122.70 361.49,122.34 365.74,122.01 369.98,121.69 374.22,121.39 378.46,121.10 382.70,120.84 386.95,120.58 391.19,120.34 395.43,120.11 399.67,119.90 403.91,119.69 408.15,119.50 412.40,119.32 416.64,119.15 420.88,118.99 425.12,118.83 429.36,118.69 433.61,118.55 437.85,118.42 442.09,118.30 446.33,118.18 450.57,118.07 454.81,117.96 459.06,117.87 463.30,117.77 467.54,117.68 471.78,117.60 476.02,117.52 480.26,117.45 484.51,117.38 488.75,117.31 492.99,117.25 497.23,117.19 501.47,117.13 505.72,117.08 509.96,117.03 514.20,116.98 518.44,116.93 522.68,116.89 526.92,116.85 531.17,116.81 535.41,116.78 539.65,116.74 543.89,116.71 548.13,116.68 552.37,116.65 556.62,116.62 560.86,116.60 565.10,116.57" stroke="#bb2129" stroke-width="3" fill="none" stroke-linejoin="round"/>
<polyline points="109.80,483.39 109.80,482.48 109.81,481.56 109.82,480.63 109.83,479.71 109.84,478.79 109.86,477.87 109.87,476.94 109.88,476.02 109.89,475.09 109.91,474.17 109.92,473.24 109.94,472.31 109.96,471.38 109.97,470.46 109.99,469.53 110.01,468.60 110.03,467.66 110.05,466.73 110.07,465.80 110.09,464.87 110.11,463.94 110.14,463.00 110.16,462.07 110.18,461.13 110.21,460.20 110.24,459.26 110.26,458.32 110.29,457.39 110.32,456.45 110.35,455.51 110.38,454.57 110.41,453.63 110.45,452.69 110.48,451.75 110.52,450.81 110.55,449.87 110.59,448.93 110.63,447.99 110.67,447.05 110.71,446.10 110.75,445.16 110.79,444.22 110.83,443.28 110.88,442.33 110.92,441.39 110.97,440.44 111.01,439.50 111.06,438.55 111.11,437.61 111.16,436.66 111.22,435.72 111.27,434.77 111.32,433.82 111.38,432.88 111.44,431.93 111.49,430.98 111.55,430.04 111.61,429.09 111.67,428.14 111.74,427.20 111.80,426.25 111.87,425.30 111.93,424.35 112.00,423.40 112.07,422.46 112.14,421.51 112.21,420.56 112.29,419.61 112.36,418.66 112.44,417.71 112.51,416.77 112.59,415.82 112.67,414.87 112.76,413.92 112.84,412.97 112.92,412.02 113.01,411.08 113.10,410.13 113.19,409.18 113.28,408.23 113.37,407.28 113.46,406.33 113.56,405.39 113.65,404.44 113.75,403.49 113.85,402.54 113.95,401.60 114.05,400.65 114.16,399.70 114.27,398.76 114.37,397.81 114.48,396.86 114.59,395.92 114.71,394.97 114.82,394.03 114.94,393.08 115.05,392.14 115.17,391.19 115.29,390.25 115.42,389.30 115.54,388.36 115.67,387.42 115.79,386.47 115.92,385.53 116.06,384.59 116.19,383.64 116.32,382.70 116.46,381.76 116.60,380.82 116.74,379.88 116.88,378.94 117.03,378.00 117.17,377.06 117.32,376.12 117.47,375.19 117.62,374.25 117.78,373.31 117.93,372.37 118.09,371.44 118.25,370.50 118.41,369.57 118.58,368.63 118.74,367.70 118.91,366.77 119.08,365.83 119.25,364.90 119.42,363.97 119.60,363.04 119.78,362.11 119.96,361.18 120.14,360.25 120.32,359.32 120.51,358.39 120.70,357.47 120.89,356.54 121.08,355.61 121.28,354.69 121.47,353.77 121.67,352.84 121.87,351.92 122.08,351.00 122.28,350.08 122.49,349.16 122.70,348.24 122.91,347.32 123.13,346.40 123.34,345.49 123.56,344.57 123.78,343.65 124.01,342.74 124.23,341.83 124.46,340.91 124.69,340.00 124.93,339.09 125.16,338.18 125.40,337.27 125.64,336.37 125.88,335.46 126.13,334.55 126.37,333.65 126.62,332.74 126.88,331.84 127.13,330.94 127.39,330.04 127.65,329.14 127.91,328.24 128.18,327.34 128.44,326.45 128.71,325.55 128.98,324.66 129.26,323.76 129.54,322.87 129.82,321.98 130.10,321.09 130.38,320.20 130.67,319.32 130.96,318.43 131.26,317.54 131.55,316.66 131.85,315.78 132.15,314.90 132.45,314.02 132.76,313.14 133.07,312.26 133.38,311.38 133.70,310.51 134.01,309.64 134.33,308.76 134.66,307.89 134.98,307.02 135.31,306.15 135.64,305.29 135.97,304.42 136.31,303.56 136.65,302.69 136.99,301.83 137.34,300.97 137.69,300.11 138.04,299.26 138.39,298.40 138.75,297.55 139.11,296.69 139.47,295.84 139.84,294.99 140.20,294.14 140.58,293.30 140.95,292.45 141.33,291.61 141.71,290.77 142.09,289.93 142.48,289.09 142.87,288.25 143.26,287.41 143.65,286.58 144.05,285.75 144.45,284.91 144.86,284.09 145.27,283.26 145.68,282.43 146.09,281.61 146.51,280.78 146.93,279.96 147.35,279.14 147.78,278.33 148.21,277.51 148.64,276.70 149.08,275.88 149.52,275.07 149.96,274.26 150.41,273.46 150.85,272.65 151.31,271.85 151.76,271.05 152.22,270.25 152.68,269.45 153.15,268.65 153.62,267.86 154.09,267.07 154.57,266.28 155.04,265.49 155.53,264.70 156.01,263.92 156.50,263.13 156.99,262.35 157.49,261.58 157.99,260.80 158.49,260.02 159.00,259.25 159.51,258.48 160.02,257.71 160.54,256.94 161.06,256.18 161.58,255.42 162.11,254.66 162.64,253.90 163.17,253.14 163.71,252.39 164.25,251.63 164.79,250.88 165.34,250.14 165.89,249.39 166.45,248.65 167.01,247.91 167.57,247.17 168.14,246.43 168.71,245.69 169.28,244.96 169.86,244.23 170.44,243.50 171.02,242.78 171.61,242.06 172.20,241.34 172.79,240.62 173.39,239.90 173.99,239.19 174.59,238.48 175.20,237.77 175.81,237.07 176.42,236.36 177.04,235.66 177.66,234.97 178.29,234.27 178.91,233.58 179.55,232.89 180.18,232.20 180.82,231.52 181.46,230.84 182.10,230.16 182.75,229.48 183.40,228.81 184.05,228.14 184.71,227.48 185.37,226.81 186.03,226.15 186.70,225.49 187.37,224.84 188.04,224.19 188.71,223.54 189.39,222.90 190.07,222.25 190.76,221.61 191.45,220.98 192.14,220.35 192.83,219.72 193.53,219.09 194.23,218.47 194.93,217.85 195.64,217.23 196.35,216.62 197.06,216.01 197.77,215.40 198.49,214.80 199.21,214.20 199.94,213.61 200.66,213.01 201.39,212.42 202.13,211.84 202.86,211.26 203.60,210.68 204.34,210.11 205.09,209.54 205.83,208.97 206.58,208.41 207.34,207.85 208.09,207.29 208.85,206.74 209.61,206.19 210.37,205.65 211.14,205.11 211.91,204.57 212.68,204.04 213.46,203.51 214.23,202.98 215.01,202.46 215.80,201.95 216.58,201.43 217.37,200.92 218.16,200.42 218.95,199.92 219.75,199.42 220.55,198.93 221.35,198.44 222.15,197.96 222.96,197.48 223.77,197.00 224.58,196.53 225.40,196.07 226.21,195.60 227.03,195.15 227.85,194.69 228.68,194.24 229.50,193.80 230.00,193.70 235.70,190.79 241.41,188.04 247.11,185.45 252.82,182.99 258.52,180.68 264.22,178.49 269.93,176.42 275.63,174.47 281.33,172.63 287.04,170.89 292.74,169.24 298.45,167.69 304.15,166.22 309.85,164.84 315.56,163.53 321.26,162.29 326.96,161.13 332.67,160.02 338.37,158.98 344.08,158.00 349.78,157.07 355.48,156.20 361.19,155.37 366.89,154.58 372.59,153.85 378.30,153.15 384.00,152.49 389.71,151.87 395.41,151.28 401.11,150.72 406.82,150.20 412.52,149.70 418.23,149.24 423.93,148.80 429.63,148.38 435.34,147.98 441.04,147.61 446.74,147.26 452.45,146.93 458.15,146.61 463.86,146.32 469.56,146.04 475.26,145.78 480.97,145.53 486.67,145.29 492.37,145.07 498.08,144.86 503.78,144.66 509.49,144.47 515.19,144.29 520.89,144.13 526.60,143.97 532.30,143.82 538.01,143.68 543.71,143.55 549.41,143.42 555.12,143.30 560.82,143.19 566.52,143.08 572.23,142.98 577.93,142.89 583.64,142.80 589.34,142.72 595.04,142.64 600.75,142.56 606.45,142.49 612.15,142.42 617.86,142.36 623.56,142.30 629.27,142.24 634.97,142.19 640.67,142.14 646.38,142.09 652.08,142.05 657.78,142.01 663.49,141.97 669.19,141.93 674.90,141.89 680.60,141.86" stroke="#bb2129" stroke-width="3" fill="none" stroke-linejoin="round"/>
<polyline points="109.80,483.40 109.79,482.40 109.77,481.39 109.76,480.39 109.75,479.39 109.74,478.39 109.73,477.38 109.73,476.38 109.72,475.38 109.72,474.38 109.71,473.38 109.71,472.38 109.71,471.38 109.71,470.38 109.71,469.38 109.71,468.38 109.72,467.38 109.72,466.39 109.73,465.39 109.73,464.39 109.74,463.39 109.75,462.40 109.76,461.40 109.77,460.40 109.79,459.41 109.80,458.41 109.81,457.41 109.83,456.42 109.85,455.42 109.87,454.43 109.88,453.43 109.90,452.44 109.93,451.44 109.95,450.45 109.97,449.45 110.00,448.46 110.02,447.47 110.05,446.47 110.07,445.48 110.10,444.48 110.13,443.49 110.16,442.50 110.19,441.50 110.23,440.51 110.26,439.52 110.29,438.52 110.33,437.53 110.36,436.54 110.40,435.54 110.44,434.55 110.48,433.56 110.52,432.57 110.56,431.57 110.60,430.58 110.64,429.59 110.69,428.60 110.73,427.60 110.77,426.61 110.82,425.62 110.87,424.63 110.91,423.63 110.96,422.64 111.01,421.65 111.06,420.65 111.11,419.66 111.16,418.67 111.22,417.68 111.27,416.68 111.32,415.69 111.38,414.70 111.44,413.70 111.49,412.71 111.55,411.72 111.61,410.72 111.66,409.73 111.72,408.74 111.78,407.74 111.84,406.75 111.91,405.75 111.97,404.76 112.03,403.77 112.09,402.77 112.16,401.78 112.22,400.78 112.29,399.79 112.36,398.79 112.42,397.79 112.49,396.80 112.56,395.80 112.63,394.81 112.70,393.81 112.77,392.81 112.84,391.82 112.91,390.82 112.98,389.82 113.05,388.82 113.13,387.83 113.20,386.83 113.27,385.83 113.35,384.83 113.42,383.83 113.50,382.83 113.58,381.83 113.65,380.83 113.73,379.83 113.81,378.83 113.89,377.83 113.97,376.83 114.05,375.82 114.13,374.82 114.21,373.82 114.29,372.82 114.37,371.81 114.45,370.81 114.54,369.81 114.62,368.81 114.71,367.80 114.80,366.80 114.88,365.79 114.97,364.79 115.06,363.79 115.15,362.78 115.25,361.78 115.34,360.77 115.43,359.77 115.53,358.76 115.63,357.76 115.72,356.76 115.82,355.75 115.92,354.75 116.02,353.74 116.13,352.74 116.23,351.73 116.34,350.73 116.45,349.73 116.56,348.72 116.67,347.72 116.78,346.71 116.89,345.71 117.01,344.71 117.12,343.70 117.24,342.70 117.36,341.70 117.49,340.70 117.61,339.69 117.74,338.69 117.86,337.69 117.99,336.69 118.13,335.69 118.26,334.69 118.40,333.69 118.53,332.69 118.67,331.69 118.82,330.69 118.96,329.69 119.11,328.69 119.25,327.69 119.41,326.70 119.56,325.70 119.71,324.70 119.87,323.71 120.03,322.71 120.19,321.71 120.36,320.72 120.53,319.73 120.70,318.73 120.87,317.74 121.05,316.75 121.22,315.76 121.40,314.77 121.59,313.78 121.77,312.79 121.96,311.80 122.15,310.81 122.35,309.82 122.54,308.83 122.74,307.85 122.95,306.86 123.15,305.88 123.36,304.89 123.57,303.91 123.79,302.93 124.00,301.95 124.22,300.97 124.45,299.99 124.68,299.01 124.91,298.03 125.14,297.05 125.38,296.08 125.62,295.10 125.86,294.13 126.11,293.15 126.36,292.18 126.61,291.21 126.87,290.24 127.13,289.27 127.39,288.30 127.66,287.34 127.93,286.37 128.21,285.41 128.49,284.44 128.77,283.48 129.06,282.52 129.35,281.56 129.64,280.60 129.94,279.64 130.24,278.68 130.54,277.73 130.85,276.77 131.17,275.82 131.48,274.87 131.81,273.92 132.13,272.97 132.46,272.02 132.79,271.07 133.13,270.13 133.47,269.19 133.82,268.25 134.17,267.31 134.52,266.37 134.88,265.44 135.24,264.51 135.61,263.58 135.98,262.65 136.36,261.72 136.74,260.80 137.12,259.88 137.51,258.96 137.90,258.04 138.30,257.13 138.71,256.22 139.11,255.31 139.52,254.40 139.94,253.50 140.36,252.60 140.79,251.70 141.22,250.80 141.65,249.91 142.09,249.02 142.53,248.14 142.98,247.25 143.44,246.37 143.89,245.50 144.36,244.63 144.83,243.76 145.30,242.89 145.78,242.03 146.26,241.17 146.75,240.31 147.24,239.46 147.74,238.61 148.24,237.77 148.75,236.93 149.26,236.09 149.78,235.26 150.31,234.43 150.84,233.60 151.37,232.78 151.91,231.97 152.45,231.15 153.00,230.35 153.56,229.54 154.12,228.74 154.69,227.95 155.26,227.16 155.83,226.37 156.42,225.59 157.00,224.81 157.60,224.04 158.20,223.28 158.80,222.51 159.41,221.76 160.03,221.01 160.65,220.26 161.28,219.52 161.91,218.78 162.55,218.05 163.19,217.32 163.84,216.60 164.50,215.89 165.16,215.18 165.83,214.47 166.50,213.77 167.18,213.08 167.86,212.39 168.55,211.71 169.25,211.03 169.95,210.36 170.66,209.69 171.37,209.03 172.09,208.37 172.81,207.72 173.54,207.08 174.27,206.44 175.01,205.80 175.75,205.17 176.50,204.55 177.25,203.93 178.01,203.31 178.77,202.71 179.54,202.10 180.32,201.50 181.09,200.91 181.87,200.32 182.66,199.74 183.45,199.16 184.25,198.59 185.05,198.02 185.85,197.46 186.66,196.90 187.47,196.35 188.29,195.80 189.11,195.25 189.93,194.72 190.76,194.18 191.60,193.66 192.43,193.13 193.27,192.61 194.12,192.10 194.97,191.59 195.82,191.09 196.67,190.59 197.53,190.10 198.40,189.61 199.26,189.12 200.13,188.64 201.00,188.17 201.88,187.70 202.76,187.23 203.64,186.77 204.53,186.31 205.42,185.86 206.31,185.42 207.20,184.97 208.10,184.54 209.00,184.10 209.90,183.67 210.81,183.25 211.72,182.83 212.63,182.42 213.54,182.01 214.46,181.60 215.38,181.20 216.30,180.80 217.22,180.41 218.15,180.02 219.07,179.64 220.00,179.26 220.94,178.89 221.87,178.52 222.81,178.15 223.74,177.79 224.68,177.43 225.63,177.08 226.57,176.73 227.52,176.38 228.46,176.04 229.41,175.71 230.00,175.51 234.23,174.13 238.46,172.82 242.68,171.59 246.91,170.42 251.14,169.32 255.37,168.28 259.59,167.29 263.82,166.36 268.05,165.48 272.28,164.64 276.51,163.86 280.73,163.11 284.96,162.41 289.19,161.74 293.42,161.11 297.65,160.51 301.87,159.95 306.10,159.42 310.33,158.91 314.56,158.44 318.78,157.99 323.01,157.56 327.24,157.16 331.47,156.78 335.70,156.42 339.92,156.08 344.15,155.76 348.38,155.45 352.61,155.17 356.84,154.89 361.06,154.64 365.29,154.39 369.52,154.16 373.75,153.95 377.97,153.74 382.20,153.55 386.43,153.36 390.66,153.19 394.89,153.02 399.11,152.87 403.34,152.72 407.57,152.58 411.80,152.45 416.03,152.33 420.25,152.21 424.48,152.10 428.71,151.99 432.94,151.90 437.16,151.80 441.39,151.71 445.62,151.63 449.85,151.55 454.08,151.47 458.30,151.40 462.53,151.34 466.76,151.27 470.99,151.21 475.22,151.16 479.44,151.10 483.67,151.05 487.90,151.00 492.13,150.96 496.35,150.92 500.58,150.88 504.81,150.84 509.04,150.80 513.27,150.77 517.49,150.73 521.72,150.70 525.95,150.68 530.18,150.65 534.41,150.62 538.63,150.60 542.86,150.57 547.09,150.55 551.32,150.53 555.54,150.51 559.77,150.49 564.00,150.48" stroke="#bb2129" stroke-width="3" fill="none" stroke-linejoin="round"/>
<line x1="693.30" y1="53.90" x2="721.70" y2="53.90" stroke="#3d70b5" stroke-width="3" />
<text x="731.50" y="58.20" font-size="15" text-anchor="start" fill="#000" >T0</text>
<line x1="693.30" y1="75.27" x2="721.70" y2="75.27" stroke="#e27f27" stroke-width="3" />
<text x="731.50" y="79.57" font-size="15" text-anchor="start" fill="#000" >T1</text>
<line x1="693.30" y1="96.64" x2="721.70" y2="96.64" stroke="#5e9f38" stroke-width="3" />
<text x="731.50" y="100.94" font-size="15" text-anchor="start" fill="#000" >T2</text>
<line x1="693.30" y1="118.01" x2="721.70" y2="118.01" stroke="#bb2129" stroke-width="3" />
<text x="731.50" y="122.31" font-size="15" text-anchor="start" fill="#000" >T3</text>
<text x="834.00" y="30.20" font-size="36" text-anchor="start" fill="#000" >B</text>
<line x1="925.00" y1="192.20" x2="1328.20" y2="192.20" stroke="#d6d6d6" stroke-width="1.6" stroke-dasharray="8.6 8.7"/>
<line x1="925.00" y1="294.40" x2="1328.20" y2="294.40" stroke="#d6d6d6" stroke-width="1.6" stroke-dasharray="8.6 8.7"/>
<line x1="925.00" y1="397.10" x2="1328.20" y2="397.10" stroke="#d6d6d6" stroke-width="1.6" stroke-dasharray="8.6 8.7"/>
<line x1="925.00" y1="499.60" x2="1328.20" y2="499.60" stroke="#d6d6d6" stroke-width="1.6" stroke-dasharray="8.6 8.7"/>
<path d="M924.4,163.5 L924.4,504.3 L1328.2,504.3" stroke="#000" stroke-width="2.2" fill="none" stroke-linejoin="round"/>
<line x1="913.20" y1="192.20" x2="924.40" y2="192.20" stroke="#000" stroke-width="2.2" />
<text x="902.30" y="201.40" font-size="19.5" text-anchor="end" fill="#000" >6</text>
<line x1="913.20" y1="294.40" x2="924.40" y2="294.40" stroke="#000" stroke-width="2.2" />
<text x="902.30" y="303.60" font-size="19.5" text-anchor="end" fill="#000" >4</text>
<line x1="913.20" y1="397.10" x2="924.40" y2="397.10" stroke="#000" stroke-width="2.2" />
<text x="902.30" y="405.80" font-size="19.5" text-anchor="end" fill="#000" >2</text>
<line x1="913.20" y1="499.60" x2="924.40" y2="499.60" stroke="#000" stroke-width="2.2" />
<text x="902.30" y="508.80" font-size="19.5" text-anchor="end" fill="#000" >0</text>
<line x1="974.80" y1="504.30" x2="974.80" y2="513.00" stroke="#000" stroke-width="2.2" />
<text x="970.90" y="541.30" font-size="19.5" text-anchor="middle" fill="#000" >T0</text>
<line x1="1075.90" y1="504.30" x2="1075.90" y2="513.00" stroke="#000" stroke-width="2.2" />
<text x="1072.00" y="541.30" font-size="19.5" text-anchor="middle" fill="#000" >T1</text>
<line x1="1176.90" y1="504.30" x2="1176.90" y2="513.00" stroke="#000" stroke-width="2.2" />
<text x="1173.00" y="541.30" font-size="19.5" text-anchor="middle" fill="#000" >T2</text>
<line x1="1278.00" y1="504.30" x2="1278.00" y2="513.00" stroke="#000" stroke-width="2.2" />
<text x="1274.10" y="541.30" font-size="19.5" text-anchor="middle" fill="#000" >T3</text>
<text x="883.20" y="409.50" font-size="22.6" text-anchor="start" fill="#000" textLength="152.70" lengthAdjust="spacingAndGlyphs" transform="rotate(-90 883.20 409.50)" >Shannon index</text>
<path d="M975.70,289.80 C976.52,292.95 978.27,303.15 980.65,308.70 C983.03,314.25 987.49,318.30 990.00,323.10 C992.51,327.90 994.27,332.72 995.70,337.50 C997.13,342.28 997.95,347.02 998.60,351.80 C999.25,356.58 999.83,361.40 999.60,366.20 C999.37,371.00 998.80,375.82 997.20,380.60 C995.60,385.38 992.52,390.12 990.00,394.90 C987.48,399.68 984.38,404.50 982.10,409.30 C979.82,414.10 977.37,420.97 976.30,423.70 C975.23,426.43 975.80,425.37 975.70,425.70 L973.90,425.70 C973.80,425.37 974.37,426.43 973.30,423.70 C972.23,420.97 969.78,414.10 967.50,409.30 C965.22,404.50 962.12,399.68 959.60,394.90 C957.08,390.12 954.00,385.38 952.40,380.60 C950.80,375.82 950.23,371.00 950.00,366.20 C949.77,361.40 950.35,356.58 951.00,351.80 C951.65,347.02 952.47,342.28 953.90,337.50 C955.33,332.72 957.09,327.90 959.60,323.10 C962.11,318.30 966.57,314.25 968.95,308.70 C971.33,303.15 973.07,292.95 973.90,289.80 Z" stroke="#000" stroke-width="2.5" fill="#c94d3b" stroke-linejoin="round"/>
<path d="M1076.50,280.20 C1076.62,280.67 1076.78,282.12 1077.20,283.00 C1077.62,283.88 1078.27,284.55 1079.00,285.50 C1079.73,286.45 1080.43,287.10 1081.60,288.70 C1082.77,290.30 1084.50,292.83 1086.00,295.10 C1087.50,297.37 1089.18,299.90 1090.60,302.30 C1092.02,304.70 1093.17,307.47 1094.50,309.50 C1095.83,311.53 1097.50,312.70 1098.60,314.50 C1099.70,316.30 1101.32,318.38 1101.10,320.30 C1100.88,322.22 1099.02,324.22 1097.30,326.00 C1095.58,327.78 1093.15,329.32 1090.80,331.00 C1088.45,332.68 1085.33,334.53 1083.20,336.10 C1081.07,337.67 1079.12,339.12 1078.00,340.40 C1076.88,341.68 1076.75,343.23 1076.50,343.80 L1075.30,343.80 C1075.05,343.23 1074.92,341.68 1073.80,340.40 C1072.68,339.12 1070.73,337.67 1068.60,336.10 C1066.47,334.53 1063.35,332.68 1061.00,331.00 C1058.65,329.32 1056.22,327.78 1054.50,326.00 C1052.78,324.22 1050.92,322.22 1050.70,320.30 C1050.48,318.38 1052.10,316.30 1053.20,314.50 C1054.30,312.70 1055.97,311.53 1057.30,309.50 C1058.63,307.47 1059.78,304.70 1061.20,302.30 C1062.62,299.90 1064.30,297.37 1065.80,295.10 C1067.30,292.83 1069.03,290.30 1070.20,288.70 C1071.37,287.10 1072.07,286.45 1072.80,285.50 C1073.53,284.55 1074.18,283.88 1074.60,283.00 C1075.02,282.12 1075.18,280.67 1075.30,280.20 Z" stroke="#000" stroke-width="2.5" fill="#7bbad5" stroke-linejoin="round"/>
<path d="M1178.00,318.50 C1178.25,318.72 1178.93,319.30 1179.50,319.80 C1180.07,320.30 1180.32,320.88 1181.40,321.50 C1182.48,322.12 1184.57,322.90 1186.00,323.50 C1187.43,324.10 1188.20,324.23 1190.00,325.10 C1191.80,325.97 1194.95,327.50 1196.80,328.70 C1198.65,329.90 1200.20,331.33 1201.10,332.30 C1202.00,333.27 1202.30,333.72 1202.20,334.50 C1202.10,335.28 1201.22,336.17 1200.50,337.00 C1199.78,337.83 1198.93,338.25 1197.90,339.50 C1196.87,340.75 1195.73,342.95 1194.30,344.50 C1192.87,346.05 1191.10,347.47 1189.30,348.80 C1187.50,350.13 1185.18,351.30 1183.50,352.50 C1181.82,353.70 1180.20,354.48 1179.20,356.00 C1178.20,357.52 1177.78,360.67 1177.50,361.60 L1176.30,361.60 C1176.02,360.67 1175.60,357.52 1174.60,356.00 C1173.60,354.48 1171.98,353.70 1170.30,352.50 C1168.62,351.30 1166.30,350.13 1164.50,348.80 C1162.70,347.47 1160.93,346.05 1159.50,344.50 C1158.07,342.95 1156.93,340.75 1155.90,339.50 C1154.87,338.25 1154.02,337.83 1153.30,337.00 C1152.58,336.17 1151.70,335.28 1151.60,334.50 C1151.50,333.72 1151.80,333.27 1152.70,332.30 C1153.60,331.33 1155.15,329.90 1157.00,328.70 C1158.85,327.50 1162.00,325.97 1163.80,325.10 C1165.60,324.23 1166.37,324.10 1167.80,323.50 C1169.23,322.90 1171.32,322.12 1172.40,321.50 C1173.48,320.88 1173.73,320.30 1174.30,319.80 C1174.87,319.30 1175.55,318.72 1175.80,318.50 Z" stroke="#000" stroke-width="2.5" fill="#5ea58a" stroke-linejoin="round"/>
<path d="M1279.60,345.40 C1280.72,346.83 1283.42,351.10 1286.30,354.00 C1289.18,356.90 1294.18,360.08 1296.90,362.80 C1299.62,365.52 1301.65,367.58 1302.60,370.30 C1303.55,373.02 1303.33,376.17 1302.60,379.10 C1301.87,382.03 1299.67,384.77 1298.20,387.90 C1296.73,391.03 1294.85,394.55 1293.80,397.90 C1292.75,401.25 1293.05,404.65 1291.90,408.00 C1290.75,411.35 1288.68,414.65 1286.90,418.00 C1285.12,421.35 1282.50,424.90 1281.20,428.10 C1279.90,431.30 1279.45,435.68 1279.10,437.20 L1276.90,437.20 C1276.55,435.68 1276.10,431.30 1274.80,428.10 C1273.50,424.90 1270.88,421.35 1269.10,418.00 C1267.32,414.65 1265.25,411.35 1264.10,408.00 C1262.95,404.65 1263.25,401.25 1262.20,397.90 C1261.15,394.55 1259.27,391.03 1257.80,387.90 C1256.33,384.77 1254.13,382.03 1253.40,379.10 C1252.67,376.17 1252.45,373.02 1253.40,370.30 C1254.35,367.58 1256.38,365.52 1259.10,362.80 C1261.82,360.08 1266.82,356.90 1269.70,354.00 C1272.58,351.10 1275.28,346.83 1276.40,345.40 Z" stroke="#000" stroke-width="2.5" fill="#4a588c" stroke-linejoin="round"/>
<circle cx="974.80" cy="365.50" r="6.9" fill="#fff"/>
<circle cx="1075.90" cy="319.20" r="6.9" fill="#fff"/>
<circle cx="1176.90" cy="335.50" r="6.9" fill="#fff"/>
<circle cx="1278.00" cy="379.70" r="6.9" fill="#fff"/>
<path d="M1176.80,212.50 L1176.80,201.50 L1277.80,201.50 L1277.80,212.50" stroke="#000" stroke-width="2.3" fill="none" stroke-linejoin="miter"/>
<path d="M1075.90,257.00 L1075.90,246.20 L1277.80,246.20 L1277.80,257.00" stroke="#000" stroke-width="2.3" fill="none" stroke-linejoin="miter"/>
<text x="1227.60" y="187.80" font-size="20" text-anchor="middle" fill="#000" >*</text>
<text x="1177.90" y="232.60" font-size="20" text-anchor="middle" fill="#000" letter-spacing="1.6">**</text>
<text x="1330.10" y="249.20" font-size="17.1" text-anchor="start" fill="#000" textLength="47.63" lengthAdjust="spacingAndGlyphs" >Group</text>
<line x1="1351.80" y1="260.70" x2="1351.80" y2="271.00" stroke="#000" stroke-width="2.2" />
<line x1="1351.80" y1="295.60" x2="1351.80" y2="305.90" stroke="#000" stroke-width="2.2" />
<rect x="1337.40" y="272.10" width="29.30" height="22.40" fill="#c94d3b" stroke="#000" stroke-width="2.2"/>
<line x1="1337.30" y1="283.30" x2="1366.80" y2="283.30" stroke="#000" stroke-width="2.2" />
<text x="1377.30" y="287.90" font-size="16.3" text-anchor="start" fill="#000" >T0</text>
<line x1="1351.80" y1="310.20" x2="1351.80" y2="320.50" stroke="#000" stroke-width="2.2" />
<line x1="1351.80" y1="344.90" x2="1351.80" y2="355.20" stroke="#000" stroke-width="2.2" />
<rect x="1337.40" y="321.60" width="29.30" height="22.20" fill="#7bbad5" stroke="#000" stroke-width="2.2"/>
<line x1="1337.30" y1="332.70" x2="1366.80" y2="332.70" stroke="#000" stroke-width="2.2" />
<text x="1377.30" y="337.30" font-size="16.3" text-anchor="start" fill="#000" >T1</text>
<line x1="1351.80" y1="359.70" x2="1351.80" y2="370.00" stroke="#000" stroke-width="2.2" />
<line x1="1351.80" y1="394.20" x2="1351.80" y2="404.50" stroke="#000" stroke-width="2.2" />
<rect x="1337.40" y="371.10" width="29.30" height="22.00" fill="#5ea58a" stroke="#000" stroke-width="2.2"/>
<line x1="1337.30" y1="382.10" x2="1366.80" y2="382.10" stroke="#000" stroke-width="2.2" />
<text x="1377.30" y="386.70" font-size="16.3" text-anchor="start" fill="#000" >T2</text>
<line x1="1351.80" y1="409.30" x2="1351.80" y2="419.60" stroke="#000" stroke-width="2.2" />
<line x1="1351.80" y1="443.60" x2="1351.80" y2="453.90" stroke="#000" stroke-width="2.2" />
<rect x="1337.40" y="420.70" width="29.30" height="21.80" fill="#4a588c" stroke="#000" stroke-width="2.2"/>
<line x1="1337.30" y1="431.60" x2="1366.80" y2="431.60" stroke="#000" stroke-width="2.2" />
<text x="1377.30" y="436.20" font-size="16.3" text-anchor="start" fill="#000" >T3</text>
<text x="18.00" y="706.90" font-size="36" text-anchor="start" fill="#000" >C</text>
<line x1="79.20" y1="861.50" x2="483.70" y2="861.50" stroke="#d6d6d6" stroke-width="1.6" stroke-dasharray="8.6 8.7"/>
<line x1="79.20" y1="991.30" x2="483.70" y2="991.30" stroke="#d6d6d6" stroke-width="1.6" stroke-dasharray="8.6 8.7"/>
<path d="M79.2,736.9 L79.2,1077.5 L483.7,1077.5" stroke="#000" stroke-width="2.2" fill="none" stroke-linejoin="round"/>
<line x1="68.20" y1="861.40" x2="79.20" y2="861.40" stroke="#000" stroke-width="2.2" />
<text x="59.60" y="867.40" font-size="18.5" text-anchor="end" fill="#000" >1.0</text>
<line x1="68.20" y1="991.30" x2="79.20" y2="991.30" stroke="#000" stroke-width="2.2" />
<text x="59.60" y="997.60" font-size="18.5" text-anchor="end" fill="#000" >0.5</text>
<line x1="129.60" y1="1077.50" x2="129.60" y2="1087.00" stroke="#000" stroke-width="2.2" />
<text x="128.70" y="1110.00" font-size="19.5" text-anchor="middle" fill="#000" >T0</text>
<line x1="230.90" y1="1077.50" x2="230.90" y2="1087.00" stroke="#000" stroke-width="2.2" />
<text x="230.00" y="1110.00" font-size="19.5" text-anchor="middle" fill="#000" >T1</text>
<line x1="331.80" y1="1077.50" x2="331.80" y2="1087.00" stroke="#000" stroke-width="2.2" />
<text x="330.90" y="1110.00" font-size="19.5" text-anchor="middle" fill="#000" >T2</text>
<line x1="432.90" y1="1077.50" x2="432.90" y2="1087.00" stroke="#000" stroke-width="2.2" />
<text x="432.00" y="1110.00" font-size="19.5" text-anchor="middle" fill="#000" >T3</text>
<text x="20.40" y="998.30" font-size="22.6" text-anchor="start" fill="#000" textLength="149.50" lengthAdjust="spacingAndGlyphs" transform="rotate(-90 20.40 998.30)" >Simpson index</text>
<path d="M130.10,848.30 C130.70,850.28 131.53,855.97 133.70,860.20 C135.87,864.43 140.40,869.22 143.10,873.70 C145.80,878.18 148.22,882.62 149.90,887.10 C151.58,891.58 152.42,896.10 153.20,900.60 C153.98,905.10 154.93,909.62 154.60,914.10 C154.27,918.58 153.22,923.02 151.20,927.50 C149.18,931.98 145.30,936.50 142.50,941.00 C139.70,945.50 136.43,950.02 134.40,954.50 C132.38,958.98 131.07,963.78 130.35,967.90 C129.63,972.02 130.14,977.32 130.10,979.20 L128.90,979.20 C128.86,977.32 129.37,972.02 128.65,967.90 C127.93,963.78 126.62,958.98 124.60,954.50 C122.57,950.02 119.30,945.50 116.50,941.00 C113.70,936.50 109.82,931.98 107.80,927.50 C105.78,923.02 104.73,918.58 104.40,914.10 C104.07,909.62 105.02,905.10 105.80,900.60 C106.58,896.10 107.42,891.58 109.10,887.10 C110.78,882.62 113.20,878.18 115.90,873.70 C118.60,869.22 123.13,864.43 125.30,860.20 C127.47,855.97 128.30,850.28 128.90,848.30 Z" stroke="#000" stroke-width="2.5" fill="#c94d3b" stroke-linejoin="round"/>
<path d="M231.20,868.70 C231.72,869.05 231.85,869.85 234.30,870.80 C236.75,871.75 242.55,873.18 245.90,874.40 C249.25,875.62 252.75,877.18 254.40,878.10 C256.05,879.02 257.02,879.20 255.80,879.90 C254.58,880.60 250.58,881.38 247.10,882.30 C243.62,883.22 237.55,884.33 234.90,885.40 C232.25,886.47 231.82,888.15 231.20,888.70 L230.00,888.70 C229.38,888.15 228.95,886.47 226.30,885.40 C223.65,884.33 217.58,883.22 214.10,882.30 C210.62,881.38 206.62,880.60 205.40,879.90 C204.18,879.20 205.15,879.02 206.80,878.10 C208.45,877.18 211.95,875.62 215.30,874.40 C218.65,873.18 224.45,871.75 226.90,870.80 C229.35,869.85 229.48,869.05 230.00,868.70 Z" stroke="#000" stroke-width="2.5" fill="#7bbad5" stroke-linejoin="round"/>
<path d="M332.50,868.70 C333.20,869.45 333.57,871.43 336.70,873.20 C339.83,874.97 347.95,877.48 351.30,879.30 C354.65,881.12 355.88,882.08 356.80,884.10 C357.72,886.12 358.33,889.17 356.80,891.40 C355.27,893.63 350.65,895.47 347.60,897.50 C344.55,899.53 340.93,901.37 338.50,903.60 C336.07,905.83 334.00,908.52 333.00,910.90 C332.00,913.28 332.58,916.73 332.50,917.90 L331.30,917.90 C331.22,916.73 331.80,913.28 330.80,910.90 C329.80,908.52 327.73,905.83 325.30,903.60 C322.87,901.37 319.25,899.53 316.20,897.50 C313.15,895.47 308.53,893.63 307.00,891.40 C305.47,889.17 306.08,886.12 307.00,884.10 C307.92,882.08 309.15,881.12 312.50,879.30 C315.85,877.48 323.97,874.97 327.10,873.20 C330.23,871.43 330.60,869.45 331.30,868.70 Z" stroke="#000" stroke-width="2.5" fill="#5ea58a" stroke-linejoin="round"/>
<path d="M433.80,867.40 C433.85,868.83 433.92,872.92 434.10,876.00 C434.28,879.08 434.53,883.57 434.90,885.90 C435.27,888.23 435.37,888.33 436.30,890.00 C437.23,891.67 439.08,893.72 440.50,895.90 C441.92,898.08 443.30,900.70 444.80,903.10 C446.30,905.50 448.07,907.90 449.50,910.30 C450.93,912.70 452.22,915.12 453.40,917.50 C454.58,919.88 455.88,922.22 456.60,924.60 C457.32,926.98 457.52,928.20 457.70,931.80 C457.88,935.40 458.77,941.42 457.70,946.20 C456.63,950.98 452.85,955.72 451.30,960.50 C449.75,965.28 449.72,970.10 448.40,974.90 C447.08,979.70 445.08,984.52 443.40,989.30 C441.72,994.08 439.87,998.48 438.30,1003.60 C436.73,1008.72 434.75,1014.10 434.00,1020.00 C433.25,1025.90 433.83,1035.83 433.80,1039.00 L432.60,1039.00 C432.57,1035.83 433.15,1025.90 432.40,1020.00 C431.65,1014.10 429.67,1008.72 428.10,1003.60 C426.53,998.48 424.68,994.08 423.00,989.30 C421.32,984.52 419.32,979.70 418.00,974.90 C416.68,970.10 416.65,965.28 415.10,960.50 C413.55,955.72 409.77,950.98 408.70,946.20 C407.63,941.42 408.52,935.40 408.70,931.80 C408.88,928.20 409.08,926.98 409.80,924.60 C410.52,922.22 411.82,919.88 413.00,917.50 C414.18,915.12 415.47,912.70 416.90,910.30 C418.33,907.90 420.10,905.50 421.60,903.10 C423.10,900.70 424.48,898.08 425.90,895.90 C427.32,893.72 429.17,891.67 430.10,890.00 C431.03,888.33 431.13,888.23 431.50,885.90 C431.87,883.57 432.12,879.08 432.30,876.00 C432.48,872.92 432.55,868.83 432.60,867.40 Z" stroke="#000" stroke-width="2.5" fill="#4a588c" stroke-linejoin="round"/>
<circle cx="129.50" cy="911.40" r="6.9" fill="#fff"/>
<circle cx="230.60" cy="880.50" r="6.9" fill="#fff"/>
<circle cx="331.90" cy="889.60" r="6.9" fill="#fff"/>
<circle cx="433.20" cy="941.10" r="6.9" fill="#fff"/>
<path d="M230.90,824.60 L230.90,813.90 L432.90,813.90 L432.90,824.60" stroke="#000" stroke-width="2.3" fill="none" stroke-linejoin="miter"/>
<text x="331.80" y="799.50" font-size="20" text-anchor="middle" fill="#000" >*</text>
<text x="497.20" y="820.20" font-size="17.1" text-anchor="start" fill="#000" textLength="47.03" lengthAdjust="spacingAndGlyphs" >Group</text>
<line x1="519.00" y1="832.10" x2="519.00" y2="842.40" stroke="#000" stroke-width="2.2" />
<line x1="519.00" y1="865.90" x2="519.00" y2="876.20" stroke="#000" stroke-width="2.2" />
<rect x="504.30" y="843.50" width="29.40" height="21.30" fill="#c94d3b" stroke="#000" stroke-width="2.2"/>
<line x1="504.20" y1="854.15" x2="533.80" y2="854.15" stroke="#000" stroke-width="2.2" />
<text x="544.50" y="858.45" font-size="16.3" text-anchor="start" fill="#000" >T0</text>
<line x1="519.00" y1="881.50" x2="519.00" y2="891.80" stroke="#000" stroke-width="2.2" />
<line x1="519.00" y1="915.30" x2="519.00" y2="925.60" stroke="#000" stroke-width="2.2" />
<rect x="504.30" y="892.90" width="29.40" height="21.30" fill="#7bbad5" stroke="#000" stroke-width="2.2"/>
<line x1="504.20" y1="903.55" x2="533.80" y2="903.55" stroke="#000" stroke-width="2.2" />
<text x="544.50" y="907.85" font-size="16.3" text-anchor="start" fill="#000" >T1</text>
<line x1="519.00" y1="931.00" x2="519.00" y2="941.30" stroke="#000" stroke-width="2.2" />
<line x1="519.00" y1="964.60" x2="519.00" y2="974.90" stroke="#000" stroke-width="2.2" />
<rect x="504.30" y="942.40" width="29.40" height="21.10" fill="#5ea58a" stroke="#000" stroke-width="2.2"/>
<line x1="504.20" y1="952.95" x2="533.80" y2="952.95" stroke="#000" stroke-width="2.2" />
<text x="544.50" y="957.25" font-size="16.3" text-anchor="start" fill="#000" >T2</text>
<line x1="519.00" y1="979.90" x2="519.00" y2="990.20" stroke="#000" stroke-width="2.2" />
<line x1="519.00" y1="1013.70" x2="519.00" y2="1024.00" stroke="#000" stroke-width="2.2" />
<rect x="504.30" y="991.30" width="29.40" height="21.30" fill="#4a588c" stroke="#000" stroke-width="2.2"/>
<line x1="504.20" y1="1001.95" x2="533.80" y2="1001.95" stroke="#000" stroke-width="2.2" />
<text x="544.50" y="1006.25" font-size="16.3" text-anchor="start" fill="#000" >T3</text>
<text x="834.00" y="706.00" font-size="36" text-anchor="start" fill="#000" >D</text>
<line x1="923.30" y1="797.80" x2="1301.30" y2="797.80" stroke="#d6d6d6" stroke-width="1.6" stroke-dasharray="8.6 8.7"/>
<line x1="923.30" y1="904.40" x2="1301.30" y2="904.40" stroke="#d6d6d6" stroke-width="1.6" stroke-dasharray="8.6 8.7"/>
<line x1="923.30" y1="1011.10" x2="1301.30" y2="1011.10" stroke="#d6d6d6" stroke-width="1.6" stroke-dasharray="8.6 8.7"/>
<path d="M923.5,760.1 L923.5,1078.5 L1301.3,1078.5" stroke="#000" stroke-width="2.2" fill="none" stroke-linejoin="round"/>
<line x1="912.90" y1="797.80" x2="923.50" y2="797.80" stroke="#000" stroke-width="2.2" />
<text x="907.60" y="803.60" font-size="19.3" text-anchor="end" fill="#000" >3000</text>
<line x1="912.90" y1="904.50" x2="923.50" y2="904.50" stroke="#000" stroke-width="2.2" />
<text x="907.60" y="909.30" font-size="19.3" text-anchor="end" fill="#000" >2000</text>
<line x1="912.90" y1="1011.10" x2="923.50" y2="1011.10" stroke="#000" stroke-width="2.2" />
<text x="907.60" y="1021.50" font-size="19.3" text-anchor="end" fill="#000" >1000</text>
<line x1="970.60" y1="1078.50" x2="970.60" y2="1087.00" stroke="#000" stroke-width="2.2" />
<text x="973.30" y="1110.20" font-size="19.5" text-anchor="middle" fill="#000" >T0</text>
<line x1="1065.10" y1="1078.50" x2="1065.10" y2="1087.00" stroke="#000" stroke-width="2.2" />
<text x="1067.80" y="1110.20" font-size="19.5" text-anchor="middle" fill="#000" >T1</text>
<line x1="1159.60" y1="1078.50" x2="1159.60" y2="1087.00" stroke="#000" stroke-width="2.2" />
<text x="1162.30" y="1110.20" font-size="19.5" text-anchor="middle" fill="#000" >T2</text>
<line x1="1254.40" y1="1078.50" x2="1254.40" y2="1087.00" stroke="#000" stroke-width="2.2" />
<text x="1257.10" y="1110.20" font-size="19.5" text-anchor="middle" fill="#000" >T3</text>
<text x="849.10" y="955.70" font-size="22.6" text-anchor="start" fill="#000" textLength="106.60" lengthAdjust="spacingAndGlyphs" transform="rotate(-90 849.10 955.70)" >ACE index</text>
<path d="M973.20,933.10 C974.03,934.13 975.98,936.77 978.20,939.30 C980.42,941.83 984.25,945.73 986.50,948.30 C988.75,950.87 990.47,951.92 991.70,954.70 C992.93,957.48 993.65,961.78 993.90,965.00 C994.15,968.22 994.00,970.78 993.20,974.00 C992.40,977.22 990.97,980.87 989.10,984.30 C987.23,987.73 984.27,991.15 982.00,994.60 C979.73,998.05 976.58,1003.27 975.50,1005.00 L965.70,1005.00 C964.62,1003.27 961.47,998.05 959.20,994.60 C956.93,991.15 953.97,987.73 952.10,984.30 C950.23,980.87 948.80,977.22 948.00,974.00 C947.20,970.78 947.05,968.22 947.30,965.00 C947.55,961.78 948.27,957.48 949.50,954.70 C950.73,951.92 952.45,950.87 954.70,948.30 C956.95,945.73 960.78,941.83 963.00,939.30 C965.22,936.77 967.17,934.13 968.00,933.10 Z" stroke="#000" stroke-width="2.5" fill="#c94d3b" stroke-linejoin="round"/>
<path d="M1066.00,873.10 C1066.52,873.92 1067.63,876.35 1069.10,878.00 C1070.57,879.65 1073.37,881.45 1074.80,883.00 C1076.23,884.55 1077.10,885.63 1077.70,887.30 C1078.30,888.97 1077.57,891.20 1078.40,893.00 C1079.23,894.80 1081.32,896.42 1082.70,898.10 C1084.08,899.78 1085.73,901.32 1086.70,903.10 C1087.67,904.88 1089.17,907.13 1088.50,908.80 C1087.83,910.47 1085.10,911.65 1082.70,913.10 C1080.30,914.55 1076.55,916.05 1074.10,917.50 C1071.65,918.95 1069.27,920.82 1068.00,921.80 C1066.73,922.78 1066.75,923.13 1066.50,923.40 L1063.70,923.40 C1063.45,923.13 1063.47,922.78 1062.20,921.80 C1060.93,920.82 1058.55,918.95 1056.10,917.50 C1053.65,916.05 1049.90,914.55 1047.50,913.10 C1045.10,911.65 1042.37,910.47 1041.70,908.80 C1041.03,907.13 1042.53,904.88 1043.50,903.10 C1044.47,901.32 1046.12,899.78 1047.50,898.10 C1048.88,896.42 1050.97,894.80 1051.80,893.00 C1052.63,891.20 1051.90,888.97 1052.50,887.30 C1053.10,885.63 1053.97,884.55 1055.40,883.00 C1056.83,881.45 1059.63,879.65 1061.10,878.00 C1062.57,876.35 1063.68,873.92 1064.20,873.10 Z" stroke="#000" stroke-width="2.5" fill="#7bbad5" stroke-linejoin="round"/>
<path d="M1162.00,917.50 C1162.53,917.67 1163.70,917.88 1165.20,918.50 C1166.70,919.12 1168.87,920.32 1171.00,921.20 C1173.13,922.08 1175.97,922.92 1178.00,923.80 C1180.03,924.68 1182.38,925.77 1183.20,926.50 C1184.02,927.23 1183.58,927.48 1182.90,928.20 C1182.22,928.92 1180.35,929.82 1179.10,930.80 C1177.85,931.78 1176.52,933.02 1175.40,934.10 C1174.28,935.18 1173.03,936.32 1172.40,937.30 C1171.77,938.28 1172.18,939.10 1171.60,940.00 C1171.02,940.90 1169.98,941.80 1168.90,942.70 C1167.82,943.60 1166.27,944.50 1165.10,945.40 C1163.93,946.30 1162.72,947.17 1161.90,948.10 C1161.08,949.03 1160.48,950.52 1160.20,951.00 L1159.00,951.00 C1158.72,950.52 1158.12,949.03 1157.30,948.10 C1156.48,947.17 1155.27,946.30 1154.10,945.40 C1152.93,944.50 1151.38,943.60 1150.30,942.70 C1149.22,941.80 1148.18,940.90 1147.60,940.00 C1147.02,939.10 1147.43,938.28 1146.80,937.30 C1146.17,936.32 1144.92,935.18 1143.80,934.10 C1142.68,933.02 1141.35,931.78 1140.10,930.80 C1138.85,929.82 1136.98,928.92 1136.30,928.20 C1135.62,927.48 1135.18,927.23 1136.00,926.50 C1136.82,925.77 1139.17,924.68 1141.20,923.80 C1143.23,922.92 1146.07,922.08 1148.20,921.20 C1150.33,920.32 1152.50,919.12 1154.00,918.50 C1155.50,917.88 1156.67,917.67 1157.20,917.50 Z" stroke="#000" stroke-width="2.5" fill="#5ea58a" stroke-linejoin="round"/>
<path d="M1256.90,906.30 C1257.33,906.58 1258.58,907.25 1259.50,908.00 C1260.42,908.75 1261.42,909.88 1262.40,910.80 C1263.38,911.72 1264.47,912.60 1265.40,913.50 C1266.33,914.40 1267.28,915.28 1268.00,916.20 C1268.72,917.12 1269.25,918.12 1269.70,919.00 C1270.15,919.88 1270.27,920.63 1270.70,921.50 C1271.13,922.37 1271.45,923.30 1272.30,924.20 C1273.15,925.10 1274.85,925.90 1275.80,926.90 C1276.75,927.90 1277.60,929.30 1278.00,930.20 C1278.40,931.10 1278.47,931.50 1278.20,932.30 C1277.93,933.10 1277.33,934.10 1276.40,935.00 C1275.47,935.90 1274.05,936.80 1272.60,937.70 C1271.15,938.60 1269.23,939.50 1267.70,940.40 C1266.17,941.30 1264.65,942.20 1263.40,943.10 C1262.15,944.00 1261.27,944.90 1260.20,945.80 C1259.13,946.70 1257.87,947.58 1257.00,948.50 C1256.13,949.42 1255.33,950.83 1255.00,951.30 L1253.80,951.30 C1253.47,950.83 1252.67,949.42 1251.80,948.50 C1250.93,947.58 1249.67,946.70 1248.60,945.80 C1247.53,944.90 1246.65,944.00 1245.40,943.10 C1244.15,942.20 1242.63,941.30 1241.10,940.40 C1239.57,939.50 1237.65,938.60 1236.20,937.70 C1234.75,936.80 1233.33,935.90 1232.40,935.00 C1231.47,934.10 1230.87,933.10 1230.60,932.30 C1230.33,931.50 1230.40,931.10 1230.80,930.20 C1231.20,929.30 1232.05,927.90 1233.00,926.90 C1233.95,925.90 1235.65,925.10 1236.50,924.20 C1237.35,923.30 1237.67,922.37 1238.10,921.50 C1238.53,920.63 1238.65,919.88 1239.10,919.00 C1239.55,918.12 1240.08,917.12 1240.80,916.20 C1241.52,915.28 1242.47,914.40 1243.40,913.50 C1244.33,912.60 1245.42,911.72 1246.40,910.80 C1247.38,909.88 1248.38,908.75 1249.30,908.00 C1250.22,907.25 1251.47,906.58 1251.90,906.30 Z" stroke="#000" stroke-width="2.5" fill="#4a588c" stroke-linejoin="round"/>
<circle cx="970.60" cy="969.90" r="6.9" fill="#fff"/>
<circle cx="1065.10" cy="907.40" r="6.9" fill="#fff"/>
<circle cx="1159.60" cy="928.50" r="6.9" fill="#fff"/>
<circle cx="1254.40" cy="930.40" r="6.9" fill="#fff"/>
<path d="M1065.10,683.60 L1065.10,673.00 L1254.40,673.00 L1254.40,683.60" stroke="#000" stroke-width="2.3" fill="none" stroke-linejoin="miter"/>
<path d="M1065.10,725.60 L1065.10,715.00 L1159.60,715.00 L1159.60,725.60" stroke="#000" stroke-width="2.3" fill="none" stroke-linejoin="miter"/>
<path d="M970.60,767.60 L970.60,757.00 L1254.40,757.00 L1254.40,767.60" stroke="#000" stroke-width="2.3" fill="none" stroke-linejoin="miter"/>
<path d="M970.60,809.90 L970.60,799.30 L1159.60,799.30 L1159.60,809.90" stroke="#000" stroke-width="2.3" fill="none" stroke-linejoin="miter"/>
<path d="M970.60,851.60 L970.60,841.00 L1065.10,841.00 L1065.10,851.60" stroke="#000" stroke-width="2.3" fill="none" stroke-linejoin="miter"/>
<text x="1159.60" y="660.80" font-size="20" text-anchor="middle" fill="#000" >*</text>
<text x="1112.30" y="702.30" font-size="20" text-anchor="middle" fill="#000" >*</text>
<text x="1112.30" y="744.50" font-size="20" text-anchor="middle" fill="#000" >*</text>
<text x="1065.10" y="786.80" font-size="20" text-anchor="middle" fill="#000" >*</text>
<text x="1017.90" y="828.50" font-size="20" text-anchor="middle" fill="#000" >**</text>
<text x="1306.80" y="813.30" font-size="17.1" text-anchor="start" fill="#000" textLength="47.23" lengthAdjust="spacingAndGlyphs" >Group</text>
<line x1="1328.80" y1="825.40" x2="1328.80" y2="835.70" stroke="#000" stroke-width="2.2" />
<line x1="1328.80" y1="859.40" x2="1328.80" y2="869.70" stroke="#000" stroke-width="2.2" />
<rect x="1314.20" y="836.80" width="29.00" height="21.50" fill="#c94d3b" stroke="#000" stroke-width="2.2"/>
<line x1="1314.10" y1="847.55" x2="1343.30" y2="847.55" stroke="#000" stroke-width="2.2" />
<text x="1353.50" y="852.95" font-size="16.3" text-anchor="start" fill="#000" >T0</text>
<line x1="1328.80" y1="875.00" x2="1328.80" y2="885.30" stroke="#000" stroke-width="2.2" />
<line x1="1328.80" y1="908.50" x2="1328.80" y2="918.80" stroke="#000" stroke-width="2.2" />
<rect x="1314.20" y="886.40" width="29.00" height="21.00" fill="#7bbad5" stroke="#000" stroke-width="2.2"/>
<line x1="1314.10" y1="896.90" x2="1343.30" y2="896.90" stroke="#000" stroke-width="2.2" />
<text x="1353.50" y="902.30" font-size="16.3" text-anchor="start" fill="#000" >T1</text>
<line x1="1328.80" y1="924.50" x2="1328.80" y2="934.80" stroke="#000" stroke-width="2.2" />
<line x1="1328.80" y1="958.10" x2="1328.80" y2="968.40" stroke="#000" stroke-width="2.2" />
<rect x="1314.20" y="935.90" width="29.00" height="21.10" fill="#5ea58a" stroke="#000" stroke-width="2.2"/>
<line x1="1314.10" y1="946.45" x2="1343.30" y2="946.45" stroke="#000" stroke-width="2.2" />
<text x="1353.50" y="951.85" font-size="16.3" text-anchor="start" fill="#000" >T2</text>
<line x1="1328.80" y1="973.70" x2="1328.80" y2="984.00" stroke="#000" stroke-width="2.2" />
<line x1="1328.80" y1="1007.70" x2="1328.80" y2="1018.00" stroke="#000" stroke-width="2.2" />
<rect x="1314.20" y="985.10" width="29.00" height="21.50" fill="#4a588c" stroke="#000" stroke-width="2.2"/>
<line x1="1314.10" y1="995.85" x2="1343.30" y2="995.85" stroke="#000" stroke-width="2.2" />
<text x="1353.50" y="1001.25" font-size="16.3" text-anchor="start" fill="#000" >T3</text>
</svg></body></html>
